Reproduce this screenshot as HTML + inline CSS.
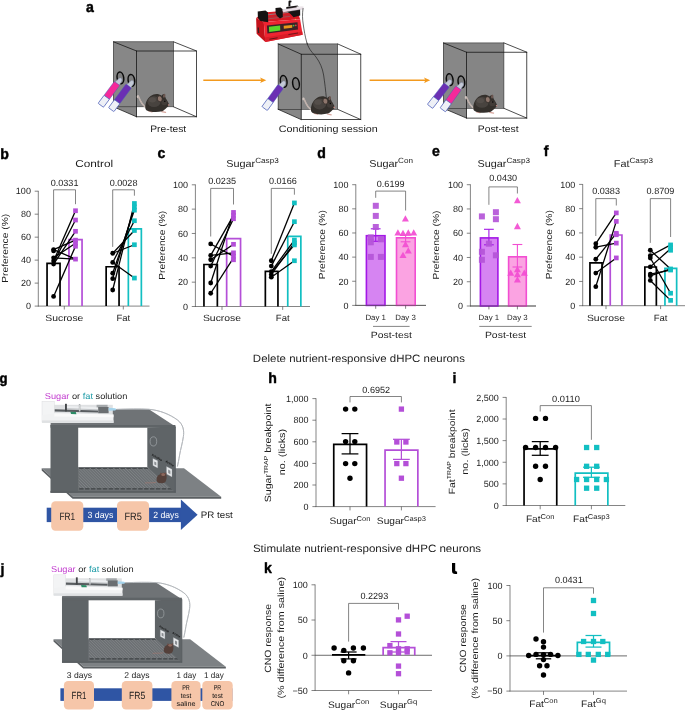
<!DOCTYPE html>
<html lang="en">
<head>
<meta charset="utf-8">
<title>Figure</title>
<style>
html,body{margin:0;padding:0;background:#ffffff;}
body{width:685px;height:711px;overflow:hidden;font-family:"Liberation Sans",sans-serif;}
svg{display:block;font-family:"Liberation Sans",sans-serif;will-change:transform;transform:translateZ(0);-webkit-font-smoothing:antialiased;text-rendering:geometricPrecision;}
svg text{font-family:"Liberation Sans",sans-serif;}
</style>
</head>
<body>
<svg width="685" height="711" viewBox="0 0 685 711">
<rect x="0" y="0" width="685" height="711" fill="#ffffff"/>
<text transform="translate(86.00,12.45) scale(0.94,1)" font-size="15" font-weight="bold" fill="#000" stroke="#000" stroke-width="0.45" stroke-linejoin="round">a</text>
<polygon points="113.50,41.80 173.50,41.80 173.50,106.80 113.50,106.80" fill="#858585" stroke="none" stroke-width="1" stroke-linejoin="round" />
<polygon points="113.50,41.80 136.60,51.00 136.60,116.80 113.50,106.80" fill="#878787" stroke="none" stroke-width="1" stroke-linejoin="round" />
<g stroke="#111" stroke-width="0.75" fill="none" stroke-linecap="round">
<rect x="113.5" y="41.8" width="60.0" height="65.0" stroke="#2a2a2a" stroke-width="0.6"/>
<rect x="136.6" y="51.0" width="60.0" height="65.8"/>
<line x1="113.5" y1="41.8" x2="136.6" y2="51.0"/>
<line x1="173.5" y1="41.8" x2="196.6" y2="51.0"/>
<line x1="113.5" y1="106.8" x2="136.6" y2="116.8"/>
<line x1="173.5" y1="106.8" x2="196.6" y2="116.8"/>
</g>
<ellipse cx="120.4" cy="77.8" rx="3.3" ry="5.9" fill="#7d7d7d" stroke="#0a0a0a" stroke-width="1.5" transform="rotate(-8 120.4 77.8)"/>
<ellipse cx="131.4" cy="80.3" rx="3.3" ry="5.9" fill="#7d7d7d" stroke="#0a0a0a" stroke-width="1.5" transform="rotate(-8 131.4 80.3)"/>
<g transform="translate(120.60,78.60) rotate(126.56)">
<path d="M6.6,-2.6 C3.6,-2.6 1.6,-2.9 0.2,-1.9 C-1.2,-0.8 -0.6,1.0 0.8,1.4 C2.4,1.8 3.8,1.9 6.6,2.6 Z" fill="#c3c9d6" stroke="#7f88a6" stroke-width="0.45"/>
<rect x="6.0" y="-3.35" width="17.84" height="6.7" rx="1.0" fill="#f5299a" stroke="#4a5cb8" stroke-width="0.45"/>
<rect x="23.24" y="-3.35" width="10.00" height="6.7" rx="0.7" fill="#eef0f6" stroke="#4a5cb8" stroke-width="0.7"/>
</g>
<g transform="translate(132.30,81.20) rotate(126.51)">
<path d="M6.6,-2.6 C3.6,-2.6 1.6,-2.9 0.2,-1.9 C-1.2,-0.8 -0.6,1.0 0.8,1.4 C2.4,1.8 3.8,1.9 6.6,2.6 Z" fill="#c3c9d6" stroke="#7f88a6" stroke-width="0.45"/>
<rect x="6.0" y="-3.35" width="20.06" height="6.7" rx="1.0" fill="#6b2fb3" stroke="#4a5cb8" stroke-width="0.45"/>
<rect x="25.46" y="-3.35" width="10.00" height="6.7" rx="0.7" fill="#eef0f6" stroke="#4a5cb8" stroke-width="0.7"/>
</g>
<g transform="translate(156.60,103.40) scale(1.0)">
<path d="M-10.2,4.2 C-13.5,2.8 -16.2,-2.0 -18.0,-6.6 C-18.6,-8.0 -19.4,-7.8 -19.0,-6.2" fill="none" stroke="#d0c4bf" stroke-width="1.5" stroke-linecap="round"/>
<path d="M-10.2,4.2 C-13.5,2.8 -16.2,-2.0 -18.0,-6.6" fill="none" stroke="#a8948d" stroke-width="0.5" stroke-linecap="round"/>
<path d="M-8.0,7.6 L-4.5,8.4" stroke="#d6a49c" stroke-width="1.2" stroke-linecap="round"/>
<path d="M5.2,8.2 L9.0,9.0" stroke="#d6a49c" stroke-width="1.2" stroke-linecap="round"/>
<path d="M-11.2,5.0 C-11.6,0.5 -10.2,-4.0 -6.0,-7.4 C-2.5,-10.0 2.0,-10.2 5.0,-7.6 C5.8,-9.0 7.2,-9.8 7.8,-9.0 C8.4,-8.0 8.6,-6.4 9.4,-4.6 C10.8,-2.4 12.2,-0.4 12.4,1.4 C12.4,2.6 11.2,3.4 10.0,4.4 C8.8,5.6 7.6,7.0 5.6,7.8 C1.8,8.8 -3.0,8.8 -6.6,8.0 C-9.4,7.4 -11.0,6.6 -11.2,5.0 Z" fill="#34302c"/>
<ellipse cx="-2.6" cy="-1.8" rx="6.6" ry="5.4" fill="#4e4945" opacity="0.8"/>
<ellipse cx="-4.2" cy="-3.6" rx="3.6" ry="2.6" fill="#5d5752" opacity="0.6"/>
<ellipse cx="7.8" cy="-0.8" rx="3.0" ry="2.6" fill="#46403c" opacity="0.8"/>
<ellipse cx="3.2" cy="-4.6" rx="2.4" ry="3.0" fill="#8d766c" stroke="#2a2421" stroke-width="0.6" transform="rotate(-12 3.2 -4.6)"/>
<ellipse cx="7.6" cy="-7.6" rx="1.2" ry="2.0" fill="#6a5650" transform="rotate(14 7.6 -7.6)"/>
<circle cx="8.2" cy="-2.2" r="0.75" fill="#050505"/>
<circle cx="12.0" cy="1.6" r="0.8" fill="#c98f88"/>
</g>
<text transform="translate(168.20,132.30) scale(1.0939,1)" font-size="9.4" text-anchor="middle" fill="#1c1c1c">Pre-test</text>
<line x1="203.30" y1="80.30" x2="263.30" y2="80.30" stroke="#f39a1e" stroke-width="1.6" stroke-linecap="butt"/>
<polygon points="266.30,80.30 260.10,77.60 261.50,80.30 260.10,83.00" fill="#f39a1e" stroke="none" stroke-width="1" stroke-linejoin="round" />
<polygon points="256.10,17.90 263.80,12.50 297.00,9.80 300.10,19.20 263.80,22.00" fill="#d81a24" stroke="none" stroke-width="1" stroke-linejoin="round" />
<polygon points="256.10,17.90 263.80,22.00 265.30,41.90 256.60,33.70" fill="#c4121b" stroke="none" stroke-width="1" stroke-linejoin="round" />
<polygon points="263.80,22.00 300.10,19.20 302.70,34.80 265.30,41.90" fill="#ee2431" stroke="none" stroke-width="1" stroke-linejoin="round" />
<polygon points="264.90,37.40 302.20,31.40 302.70,34.80 265.30,41.90" fill="#d91d28" stroke="none" stroke-width="1" stroke-linejoin="round" />
<line x1="269.40" y1="39.20" x2="277.60" y2="37.80" stroke="#5a1216" stroke-width="0.9" stroke-linecap="butt"/>
<line x1="288.40" y1="34.60" x2="298.00" y2="33.00" stroke="#5a1216" stroke-width="0.8" stroke-linecap="butt"/>
<circle cx="295.50" cy="19.30" r="0.6" fill="#e8c23a"/>
<polygon points="266.90,25.40 297.50,22.20 298.00,29.60 267.40,33.50" fill="#3b2326" stroke="none" stroke-width="1" stroke-linejoin="round" />
<polygon points="268.90,26.80 280.10,25.50 280.30,30.60 269.20,31.90" fill="#5cd62a" stroke="none" stroke-width="1" stroke-linejoin="round" />
<polygon points="283.70,25.80 292.20,24.90 292.30,27.80 283.80,28.80" fill="#e8981c" stroke="none" stroke-width="1" stroke-linejoin="round" />
<circle cx="293.60" cy="25.60" r="0.9" fill="#3fc24a"/>
<circle cx="295.80" cy="25.30" r="0.9" fill="#e04040"/>
<line x1="258.20" y1="27.50" x2="258.60" y2="33.00" stroke="#3a2022" stroke-width="1.4" stroke-linecap="butt"/>
<line x1="266.00" y1="15.00" x2="290.00" y2="12.20" stroke="#8a8688" stroke-width="0.9" stroke-linecap="butt"/>
<line x1="266.00" y1="17.60" x2="290.00" y2="14.80" stroke="#b23038" stroke-width="0.8" stroke-linecap="butt"/>
<line x1="266.00" y1="19.00" x2="290.00" y2="16.40" stroke="#777" stroke-width="0.6" stroke-linecap="butt"/>
<polygon points="257.70,11.40 265.50,10.40 268.00,12.60 268.20,22.20 260.30,21.00 257.90,17.80" fill="#141212" stroke="none" stroke-width="1" stroke-linejoin="round" />
<polygon points="275.50,8.00 280.50,7.40 282.70,9.20 282.80,17.00 280.00,18.50 277.00,16.00 275.60,13.00" fill="#161313" stroke="none" stroke-width="1" stroke-linejoin="round" />
<polygon points="286.30,7.00 297.50,5.60 300.10,8.00 300.20,15.60 293.50,17.20 290.50,14.00 286.40,11.00" fill="#171414" stroke="none" stroke-width="1" stroke-linejoin="round" />
<path d="M288.5,6.5 L288.5,1.6 Q288.6,0.4 290.0,0.5 L291.5,0.8 L291.4,2.2 L290.3,2.4 L290.4,6.3 Z" fill="#121010" stroke="none" stroke-width="1" />
<polygon points="282.70,9.60 302.80,6.60 303.30,9.00 283.00,12.20" fill="#e9dfe6" stroke="#bdb2bd" stroke-width="0.3" stroke-linejoin="round" />
<polygon points="296.50,6.40 303.20,5.90 303.60,7.20 296.80,7.90" fill="#f4f0f2" stroke="none" stroke-width="1" stroke-linejoin="round" />
<path d="M303.1,8.2 C302.2,14 302.4,19 303.2,24 C304.2,31 305.0,36 306.8,42.5 C309,50 313,53 316,57 C320,62.5 322.4,68 323.6,75 C324.8,83 325.6,90 326.4,98.5" fill="none" stroke="#1a1a1a" stroke-width="0.65" />
<polygon points="278.10,43.90 337.60,43.90 337.60,109.30 278.10,109.30" fill="#858585" stroke="none" stroke-width="1" stroke-linejoin="round" />
<polygon points="278.10,43.90 301.20,54.20 301.20,119.60 278.10,109.30" fill="#878787" stroke="none" stroke-width="1" stroke-linejoin="round" />
<g stroke="#111" stroke-width="0.75" fill="none" stroke-linecap="round">
<rect x="278.1" y="43.9" width="59.5" height="65.4" stroke="#2a2a2a" stroke-width="0.6"/>
<rect x="301.2" y="54.2" width="59.60000000000002" height="65.39999999999999"/>
<line x1="278.1" y1="43.9" x2="301.2" y2="54.2"/>
<line x1="337.6" y1="43.9" x2="360.8" y2="54.2"/>
<line x1="278.1" y1="109.3" x2="301.2" y2="119.6"/>
<line x1="337.6" y1="109.3" x2="360.8" y2="119.6"/>
</g>
<path d="M306.8,42.5 C309,50 313,53 316,57 C320,62.5 322.4,68 323.6,75 C324.8,83 325.6,90 326.4,98.5" fill="none" stroke="#1a1a1a" stroke-width="0.65" />
<ellipse cx="283.7" cy="81.3" rx="3.3" ry="5.9" fill="#7d7d7d" stroke="#0a0a0a" stroke-width="1.5" transform="rotate(-8 283.7 81.3)"/>
<ellipse cx="296.0" cy="83.6" rx="3.3" ry="5.9" fill="#7d7d7d" stroke="#0a0a0a" stroke-width="1.5" transform="rotate(-8 296.0 83.6)"/>
<g transform="translate(284.20,81.60) rotate(125.98)">
<path d="M6.6,-2.6 C3.6,-2.6 1.6,-2.9 0.2,-1.9 C-1.2,-0.8 -0.6,1.0 0.8,1.4 C2.4,1.8 3.8,1.9 6.6,2.6 Z" fill="#c3c9d6" stroke="#7f88a6" stroke-width="0.45"/>
<rect x="6.0" y="-3.35" width="17.96" height="6.7" rx="1.0" fill="#6b2fb3" stroke="#4a5cb8" stroke-width="0.45"/>
<rect x="23.36" y="-3.35" width="10.00" height="6.7" rx="0.7" fill="#eef0f6" stroke="#4a5cb8" stroke-width="0.7"/>
</g>
<g transform="translate(322.20,105.80) scale(1.0)">
<path d="M-10.2,4.2 C-13.5,2.8 -16.2,-2.0 -18.0,-6.6 C-18.6,-8.0 -19.4,-7.8 -19.0,-6.2" fill="none" stroke="#d0c4bf" stroke-width="1.5" stroke-linecap="round"/>
<path d="M-10.2,4.2 C-13.5,2.8 -16.2,-2.0 -18.0,-6.6" fill="none" stroke="#a8948d" stroke-width="0.5" stroke-linecap="round"/>
<path d="M-8.0,7.6 L-4.5,8.4" stroke="#d6a49c" stroke-width="1.2" stroke-linecap="round"/>
<path d="M5.2,8.2 L9.0,9.0" stroke="#d6a49c" stroke-width="1.2" stroke-linecap="round"/>
<path d="M-11.2,5.0 C-11.6,0.5 -10.2,-4.0 -6.0,-7.4 C-2.5,-10.0 2.0,-10.2 5.0,-7.6 C5.8,-9.0 7.2,-9.8 7.8,-9.0 C8.4,-8.0 8.6,-6.4 9.4,-4.6 C10.8,-2.4 12.2,-0.4 12.4,1.4 C12.4,2.6 11.2,3.4 10.0,4.4 C8.8,5.6 7.6,7.0 5.6,7.8 C1.8,8.8 -3.0,8.8 -6.6,8.0 C-9.4,7.4 -11.0,6.6 -11.2,5.0 Z" fill="#34302c"/>
<ellipse cx="-2.6" cy="-1.8" rx="6.6" ry="5.4" fill="#4e4945" opacity="0.8"/>
<ellipse cx="-4.2" cy="-3.6" rx="3.6" ry="2.6" fill="#5d5752" opacity="0.6"/>
<ellipse cx="7.8" cy="-0.8" rx="3.0" ry="2.6" fill="#46403c" opacity="0.8"/>
<ellipse cx="3.2" cy="-4.6" rx="2.4" ry="3.0" fill="#8d766c" stroke="#2a2421" stroke-width="0.6" transform="rotate(-12 3.2 -4.6)"/>
<ellipse cx="7.6" cy="-7.6" rx="1.2" ry="2.0" fill="#6a5650" transform="rotate(14 7.6 -7.6)"/>
<circle cx="8.2" cy="-2.2" r="0.75" fill="#050505"/>
<circle cx="12.0" cy="1.6" r="0.8" fill="#c98f88"/>
</g>
<text transform="translate(328.20,132.30) scale(1.1447,1)" font-size="9.4" text-anchor="middle" fill="#1c1c1c">Conditioning session</text>
<line x1="369.60" y1="80.30" x2="427.20" y2="80.30" stroke="#f39a1e" stroke-width="1.6" stroke-linecap="butt"/>
<polygon points="430.20,80.30 424.00,77.60 425.40,80.30 424.00,83.00" fill="#f39a1e" stroke="none" stroke-width="1" stroke-linejoin="round" />
<polygon points="443.40,42.90 503.90,42.90 503.90,108.30 443.40,108.30" fill="#858585" stroke="none" stroke-width="1" stroke-linejoin="round" />
<polygon points="443.40,42.90 466.50,52.20 466.50,118.10 443.40,108.30" fill="#878787" stroke="none" stroke-width="1" stroke-linejoin="round" />
<g stroke="#111" stroke-width="0.75" fill="none" stroke-linecap="round">
<rect x="443.4" y="42.9" width="60.5" height="65.4" stroke="#2a2a2a" stroke-width="0.6"/>
<rect x="466.5" y="52.2" width="60.299999999999955" height="65.89999999999999"/>
<line x1="443.4" y1="42.9" x2="466.5" y2="52.2"/>
<line x1="503.9" y1="42.9" x2="526.8" y2="52.2"/>
<line x1="443.4" y1="108.3" x2="466.5" y2="118.1"/>
<line x1="503.9" y1="108.3" x2="526.8" y2="118.1"/>
</g>
<ellipse cx="449.7" cy="79.6" rx="3.3" ry="5.9" fill="#7d7d7d" stroke="#0a0a0a" stroke-width="1.5" transform="rotate(-8 449.7 79.6)"/>
<ellipse cx="461.4" cy="81.9" rx="3.3" ry="5.9" fill="#7d7d7d" stroke="#0a0a0a" stroke-width="1.5" transform="rotate(-8 461.4 81.9)"/>
<g transform="translate(450.30,80.30) rotate(127.87)">
<path d="M6.6,-2.6 C3.6,-2.6 1.6,-2.9 0.2,-1.9 C-1.2,-0.8 -0.6,1.0 0.8,1.4 C2.4,1.8 3.8,1.9 6.6,2.6 Z" fill="#c3c9d6" stroke="#7f88a6" stroke-width="0.45"/>
<rect x="6.0" y="-3.35" width="17.67" height="6.7" rx="1.0" fill="#6b2fb3" stroke="#4a5cb8" stroke-width="0.45"/>
<rect x="23.07" y="-3.35" width="10.00" height="6.7" rx="0.7" fill="#eef0f6" stroke="#4a5cb8" stroke-width="0.7"/>
</g>
<g transform="translate(462.00,83.10) rotate(125.62)">
<path d="M6.6,-2.6 C3.6,-2.6 1.6,-2.9 0.2,-1.9 C-1.2,-0.8 -0.6,1.0 0.8,1.4 C2.4,1.8 3.8,1.9 6.6,2.6 Z" fill="#c3c9d6" stroke="#7f88a6" stroke-width="0.45"/>
<rect x="6.0" y="-3.35" width="17.57" height="6.7" rx="1.0" fill="#f5299a" stroke="#4a5cb8" stroke-width="0.45"/>
<rect x="22.97" y="-3.35" width="10.00" height="6.7" rx="0.7" fill="#eef0f6" stroke="#4a5cb8" stroke-width="0.7"/>
</g>
<g transform="translate(484.60,104.20) scale(1.0)">
<path d="M-10.2,4.2 C-13.5,2.8 -16.2,-2.0 -18.0,-6.6 C-18.6,-8.0 -19.4,-7.8 -19.0,-6.2" fill="none" stroke="#d0c4bf" stroke-width="1.5" stroke-linecap="round"/>
<path d="M-10.2,4.2 C-13.5,2.8 -16.2,-2.0 -18.0,-6.6" fill="none" stroke="#a8948d" stroke-width="0.5" stroke-linecap="round"/>
<path d="M-8.0,7.6 L-4.5,8.4" stroke="#d6a49c" stroke-width="1.2" stroke-linecap="round"/>
<path d="M5.2,8.2 L9.0,9.0" stroke="#d6a49c" stroke-width="1.2" stroke-linecap="round"/>
<path d="M-11.2,5.0 C-11.6,0.5 -10.2,-4.0 -6.0,-7.4 C-2.5,-10.0 2.0,-10.2 5.0,-7.6 C5.8,-9.0 7.2,-9.8 7.8,-9.0 C8.4,-8.0 8.6,-6.4 9.4,-4.6 C10.8,-2.4 12.2,-0.4 12.4,1.4 C12.4,2.6 11.2,3.4 10.0,4.4 C8.8,5.6 7.6,7.0 5.6,7.8 C1.8,8.8 -3.0,8.8 -6.6,8.0 C-9.4,7.4 -11.0,6.6 -11.2,5.0 Z" fill="#34302c"/>
<ellipse cx="-2.6" cy="-1.8" rx="6.6" ry="5.4" fill="#4e4945" opacity="0.8"/>
<ellipse cx="-4.2" cy="-3.6" rx="3.6" ry="2.6" fill="#5d5752" opacity="0.6"/>
<ellipse cx="7.8" cy="-0.8" rx="3.0" ry="2.6" fill="#46403c" opacity="0.8"/>
<ellipse cx="3.2" cy="-4.6" rx="2.4" ry="3.0" fill="#8d766c" stroke="#2a2421" stroke-width="0.6" transform="rotate(-12 3.2 -4.6)"/>
<ellipse cx="7.6" cy="-7.6" rx="1.2" ry="2.0" fill="#6a5650" transform="rotate(14 7.6 -7.6)"/>
<circle cx="8.2" cy="-2.2" r="0.75" fill="#050505"/>
<circle cx="12.0" cy="1.6" r="0.8" fill="#c98f88"/>
</g>
<text transform="translate(498.20,132.30) scale(1.1027,1)" font-size="9.4" text-anchor="middle" fill="#1c1c1c">Post-test</text>
<text transform="translate(0.20,158.75) scale(0.94,1)" font-size="15" font-weight="bold" fill="#000" stroke="#000" stroke-width="0.45" stroke-linejoin="round">b</text>
<line x1="38.30" y1="190.85" x2="38.30" y2="306.45" stroke="#505050" stroke-width="0.7" stroke-linecap="butt"/>
<line x1="34.70" y1="306.10" x2="38.30" y2="306.10" stroke="#505050" stroke-width="0.7" stroke-linecap="butt"/>
<text transform="translate(30.90,309.34)" font-size="9.0" text-anchor="end" fill="#1c1c1c">0</text>
<line x1="34.70" y1="283.12" x2="38.30" y2="283.12" stroke="#505050" stroke-width="0.7" stroke-linecap="butt"/>
<text transform="translate(30.90,286.36)" font-size="9.0" text-anchor="end" fill="#1c1c1c">20</text>
<line x1="34.70" y1="260.14" x2="38.30" y2="260.14" stroke="#505050" stroke-width="0.7" stroke-linecap="butt"/>
<text transform="translate(30.90,263.38)" font-size="9.0" text-anchor="end" fill="#1c1c1c">40</text>
<line x1="34.70" y1="237.16" x2="38.30" y2="237.16" stroke="#505050" stroke-width="0.7" stroke-linecap="butt"/>
<text transform="translate(30.90,240.40)" font-size="9.0" text-anchor="end" fill="#1c1c1c">60</text>
<line x1="34.70" y1="214.18" x2="38.30" y2="214.18" stroke="#505050" stroke-width="0.7" stroke-linecap="butt"/>
<text transform="translate(30.90,217.42)" font-size="9.0" text-anchor="end" fill="#1c1c1c">80</text>
<line x1="34.70" y1="191.20" x2="38.30" y2="191.20" stroke="#505050" stroke-width="0.7" stroke-linecap="butt"/>
<text transform="translate(30.90,194.44)" font-size="9.0" text-anchor="end" fill="#1c1c1c">100</text>
<line x1="37.95" y1="306.10" x2="149.50" y2="306.10" stroke="#505050" stroke-width="0.7" stroke-linecap="butt"/>
<text transform="translate(94.20,166.60) scale(1.1788,1)" font-size="10" text-anchor="middle" fill="#1c1c1c">Control</text>
<text transform="translate(8.30,248.25) rotate(-90) scale(1.166,1)" font-size="8.8" text-anchor="middle" fill="#1c1c1c">Preference (%)</text>
<polyline points="47.05,306.10 47.05,263.40 60.05,263.40 60.05,306.10" fill="none" stroke="#000" stroke-width="1.7"/>
<polyline points="68.95,306.10 68.95,239.62 82.05,239.62 82.05,306.10" fill="none" stroke="#b44fd8" stroke-width="1.7"/>
<line x1="64.30" y1="306.10" x2="64.30" y2="309.50" stroke="#505050" stroke-width="0.7" stroke-linecap="butt"/>
<text transform="translate(64.30,321.20) scale(1.157,1)" font-size="9.0" text-anchor="middle" fill="#1c1c1c">Sucrose</text>
<line x1="53.60" y1="296.45" x2="75.50" y2="246.24" stroke="#000" stroke-width="1.3" stroke-linecap="butt"/>
<line x1="53.60" y1="260.94" x2="75.50" y2="210.73" stroke="#000" stroke-width="1.3" stroke-linecap="butt"/>
<line x1="53.60" y1="262.44" x2="75.50" y2="220.04" stroke="#000" stroke-width="1.3" stroke-linecap="butt"/>
<line x1="53.60" y1="264.05" x2="75.50" y2="231.30" stroke="#000" stroke-width="1.3" stroke-linecap="butt"/>
<line x1="53.60" y1="249.57" x2="75.50" y2="240.15" stroke="#000" stroke-width="1.3" stroke-linecap="butt"/>
<line x1="53.60" y1="257.84" x2="75.50" y2="243.25" stroke="#000" stroke-width="1.3" stroke-linecap="butt"/>
<line x1="53.60" y1="249.57" x2="75.50" y2="259.11" stroke="#000" stroke-width="1.3" stroke-linecap="butt"/>
<line x1="53.60" y1="257.84" x2="75.50" y2="259.11" stroke="#000" stroke-width="1.3" stroke-linecap="butt"/>
<circle cx="53.60" cy="249.57" r="2.4" fill="#000"/>
<circle cx="53.60" cy="250.95" r="2.4" fill="#000"/>
<circle cx="53.60" cy="257.84" r="2.4" fill="#000"/>
<circle cx="53.60" cy="260.94" r="2.4" fill="#000"/>
<circle cx="53.60" cy="264.05" r="2.4" fill="#000"/>
<circle cx="53.60" cy="296.45" r="2.4" fill="#000"/>
<rect x="73.15" y="208.38" width="4.7" height="4.7" fill="#b44fd8"/>
<rect x="73.15" y="217.69" width="4.7" height="4.7" fill="#b44fd8"/>
<rect x="73.15" y="228.95" width="4.7" height="4.7" fill="#b44fd8"/>
<rect x="73.15" y="237.80" width="4.7" height="4.7" fill="#b44fd8"/>
<rect x="73.15" y="240.90" width="4.7" height="4.7" fill="#b44fd8"/>
<rect x="73.15" y="243.89" width="4.7" height="4.7" fill="#b44fd8"/>
<rect x="73.15" y="256.76" width="4.7" height="4.7" fill="#b44fd8"/>
<polyline points="53.60,242.00 53.60,189.80 75.50,189.80 75.50,204.20" fill="none" stroke="#505050" stroke-width="0.7"/>
<text transform="translate(64.55,185.70) scale(1.0099,1)" font-size="9.0" text-anchor="middle" fill="#1c1c1c">0.0331</text>
<polyline points="106.15,306.10 106.15,266.74 119.05,266.74 119.05,306.10" fill="none" stroke="#000" stroke-width="1.7"/>
<polyline points="128.35,306.10 128.35,228.82 141.35,228.82 141.35,306.10" fill="none" stroke="#12bfc2" stroke-width="1.7"/>
<line x1="123.30" y1="306.10" x2="123.30" y2="309.50" stroke="#505050" stroke-width="0.7" stroke-linecap="butt"/>
<text transform="translate(123.30,321.20) scale(1.0612,1)" font-size="9.0" text-anchor="middle" fill="#1c1c1c">Fat</text>
<line x1="112.70" y1="262.44" x2="134.40" y2="278.06" stroke="#000" stroke-width="1.3" stroke-linecap="butt"/>
<line x1="112.70" y1="253.25" x2="134.40" y2="244.74" stroke="#000" stroke-width="1.3" stroke-linecap="butt"/>
<line x1="112.70" y1="253.25" x2="134.40" y2="230.50" stroke="#000" stroke-width="1.3" stroke-linecap="butt"/>
<line x1="112.70" y1="262.44" x2="134.40" y2="220.73" stroke="#000" stroke-width="1.3" stroke-linecap="butt"/>
<line x1="112.70" y1="273.24" x2="134.40" y2="210.16" stroke="#000" stroke-width="1.3" stroke-linecap="butt"/>
<line x1="112.70" y1="278.64" x2="134.40" y2="206.94" stroke="#000" stroke-width="1.3" stroke-linecap="butt"/>
<line x1="112.70" y1="290.01" x2="134.40" y2="203.49" stroke="#000" stroke-width="1.3" stroke-linecap="butt"/>
<circle cx="112.70" cy="253.25" r="2.4" fill="#000"/>
<circle cx="112.70" cy="262.44" r="2.4" fill="#000"/>
<circle cx="112.70" cy="273.24" r="2.4" fill="#000"/>
<circle cx="112.70" cy="278.64" r="2.4" fill="#000"/>
<circle cx="112.70" cy="290.01" r="2.4" fill="#000"/>
<rect x="132.05" y="201.14" width="4.7" height="4.7" fill="#12bfc2"/>
<rect x="132.05" y="204.59" width="4.7" height="4.7" fill="#12bfc2"/>
<rect x="132.05" y="207.81" width="4.7" height="4.7" fill="#12bfc2"/>
<rect x="132.05" y="218.38" width="4.7" height="4.7" fill="#12bfc2"/>
<rect x="132.05" y="228.15" width="4.7" height="4.7" fill="#12bfc2"/>
<rect x="132.05" y="242.39" width="4.7" height="4.7" fill="#12bfc2"/>
<rect x="132.05" y="275.71" width="4.7" height="4.7" fill="#12bfc2"/>
<polyline points="112.70,246.90 112.70,189.80 134.40,189.80 134.40,195.70" fill="none" stroke="#505050" stroke-width="0.7"/>
<text transform="translate(123.55,185.70) scale(1.0099,1)" font-size="9.0" text-anchor="middle" fill="#1c1c1c">0.0028</text>
<text transform="translate(157.40,158.45) scale(0.94,1)" font-size="15" font-weight="bold" fill="#000" stroke="#000" stroke-width="0.45" stroke-linejoin="round">c</text>
<line x1="195.40" y1="184.45" x2="195.40" y2="306.85" stroke="#505050" stroke-width="0.7" stroke-linecap="butt"/>
<line x1="191.80" y1="306.50" x2="195.40" y2="306.50" stroke="#505050" stroke-width="0.7" stroke-linecap="butt"/>
<text transform="translate(188.00,309.74)" font-size="9.0" text-anchor="end" fill="#1c1c1c">0</text>
<line x1="191.80" y1="282.16" x2="195.40" y2="282.16" stroke="#505050" stroke-width="0.7" stroke-linecap="butt"/>
<text transform="translate(188.00,285.40)" font-size="9.0" text-anchor="end" fill="#1c1c1c">20</text>
<line x1="191.80" y1="257.82" x2="195.40" y2="257.82" stroke="#505050" stroke-width="0.7" stroke-linecap="butt"/>
<text transform="translate(188.00,261.06)" font-size="9.0" text-anchor="end" fill="#1c1c1c">40</text>
<line x1="191.80" y1="233.48" x2="195.40" y2="233.48" stroke="#505050" stroke-width="0.7" stroke-linecap="butt"/>
<text transform="translate(188.00,236.72)" font-size="9.0" text-anchor="end" fill="#1c1c1c">60</text>
<line x1="191.80" y1="209.14" x2="195.40" y2="209.14" stroke="#505050" stroke-width="0.7" stroke-linecap="butt"/>
<text transform="translate(188.00,212.38)" font-size="9.0" text-anchor="end" fill="#1c1c1c">80</text>
<line x1="191.80" y1="184.80" x2="195.40" y2="184.80" stroke="#505050" stroke-width="0.7" stroke-linecap="butt"/>
<text transform="translate(188.00,188.04)" font-size="9.0" text-anchor="end" fill="#1c1c1c">100</text>
<line x1="195.05" y1="306.50" x2="310.00" y2="306.50" stroke="#505050" stroke-width="0.7" stroke-linecap="butt"/>
<text transform="translate(252.50,167.00) scale(1.085,1)" font-size="10" text-anchor="middle" fill="#1c1c1c">Sugar<tspan dy="-3.80" font-size="7.50">Casp3</tspan></text>
<text transform="translate(164.60,245.25) rotate(-90) scale(1.166,1)" font-size="8.8" text-anchor="middle" fill="#1c1c1c">Preference (%)</text>
<polyline points="203.95,306.50 203.95,264.51 217.35,264.51 217.35,306.50" fill="none" stroke="#000" stroke-width="1.7"/>
<polyline points="226.65,306.50 226.65,238.59 240.55,238.59 240.55,306.50" fill="none" stroke="#b44fd8" stroke-width="1.7"/>
<line x1="222.00" y1="306.50" x2="222.00" y2="309.90" stroke="#505050" stroke-width="0.7" stroke-linecap="butt"/>
<text transform="translate(222.00,321.20) scale(1.157,1)" font-size="9.0" text-anchor="middle" fill="#1c1c1c">Sucrose</text>
<line x1="210.70" y1="243.95" x2="233.50" y2="256.24" stroke="#000" stroke-width="1.3" stroke-linecap="butt"/>
<line x1="210.70" y1="255.39" x2="233.50" y2="215.35" stroke="#000" stroke-width="1.3" stroke-linecap="butt"/>
<line x1="210.70" y1="259.77" x2="233.50" y2="244.31" stroke="#000" stroke-width="1.3" stroke-linecap="butt"/>
<line x1="210.70" y1="266.10" x2="233.50" y2="218.75" stroke="#000" stroke-width="1.3" stroke-linecap="butt"/>
<line x1="210.70" y1="283.01" x2="233.50" y2="212.43" stroke="#000" stroke-width="1.3" stroke-linecap="butt"/>
<line x1="210.70" y1="293.23" x2="233.50" y2="257.82" stroke="#000" stroke-width="1.3" stroke-linecap="butt"/>
<line x1="210.70" y1="255.39" x2="233.50" y2="252.83" stroke="#000" stroke-width="1.3" stroke-linecap="butt"/>
<circle cx="210.70" cy="243.95" r="2.4" fill="#000"/>
<circle cx="210.70" cy="255.39" r="2.4" fill="#000"/>
<circle cx="210.70" cy="259.77" r="2.4" fill="#000"/>
<circle cx="210.70" cy="266.10" r="2.4" fill="#000"/>
<circle cx="210.70" cy="283.01" r="2.4" fill="#000"/>
<circle cx="210.70" cy="293.23" r="2.4" fill="#000"/>
<rect x="231.15" y="210.08" width="4.7" height="4.7" fill="#b44fd8"/>
<rect x="231.15" y="213.00" width="4.7" height="4.7" fill="#b44fd8"/>
<rect x="231.15" y="216.40" width="4.7" height="4.7" fill="#b44fd8"/>
<rect x="231.15" y="241.96" width="4.7" height="4.7" fill="#b44fd8"/>
<rect x="231.15" y="250.48" width="4.7" height="4.7" fill="#b44fd8"/>
<rect x="231.15" y="253.89" width="4.7" height="4.7" fill="#b44fd8"/>
<rect x="231.15" y="257.42" width="4.7" height="4.7" fill="#b44fd8"/>
<polyline points="210.70,236.50 210.70,188.40 233.50,188.40 233.50,204.50" fill="none" stroke="#505050" stroke-width="0.7"/>
<text transform="translate(222.10,184.00) scale(1.0099,1)" font-size="9.0" text-anchor="middle" fill="#1c1c1c">0.0235</text>
<polyline points="265.35,306.50 265.35,271.33 277.95,271.33 277.95,306.50" fill="none" stroke="#000" stroke-width="1.7"/>
<polyline points="287.75,306.50 287.75,236.40 300.85,236.40 300.85,306.50" fill="none" stroke="#12bfc2" stroke-width="1.7"/>
<line x1="282.70" y1="306.50" x2="282.70" y2="309.90" stroke="#505050" stroke-width="0.7" stroke-linecap="butt"/>
<text transform="translate(282.70,321.20) scale(1.0612,1)" font-size="9.0" text-anchor="middle" fill="#1c1c1c">Fat</text>
<line x1="271.30" y1="260.74" x2="294.40" y2="202.93" stroke="#000" stroke-width="1.3" stroke-linecap="butt"/>
<line x1="271.30" y1="266.10" x2="294.40" y2="221.68" stroke="#000" stroke-width="1.3" stroke-linecap="butt"/>
<line x1="271.30" y1="271.57" x2="294.40" y2="240.05" stroke="#000" stroke-width="1.3" stroke-linecap="butt"/>
<line x1="271.30" y1="274.49" x2="294.40" y2="242.97" stroke="#000" stroke-width="1.3" stroke-linecap="butt"/>
<line x1="271.30" y1="277.17" x2="294.40" y2="260.74" stroke="#000" stroke-width="1.3" stroke-linecap="butt"/>
<line x1="271.30" y1="272.42" x2="294.40" y2="244.92" stroke="#000" stroke-width="1.3" stroke-linecap="butt"/>
<circle cx="271.30" cy="260.74" r="2.4" fill="#000"/>
<circle cx="271.30" cy="266.10" r="2.4" fill="#000"/>
<circle cx="271.30" cy="271.57" r="2.4" fill="#000"/>
<circle cx="271.30" cy="274.49" r="2.4" fill="#000"/>
<circle cx="271.30" cy="277.17" r="2.4" fill="#000"/>
<rect x="292.05" y="200.58" width="4.7" height="4.7" fill="#12bfc2"/>
<rect x="292.05" y="219.33" width="4.7" height="4.7" fill="#12bfc2"/>
<rect x="292.05" y="237.70" width="4.7" height="4.7" fill="#12bfc2"/>
<rect x="292.05" y="240.62" width="4.7" height="4.7" fill="#12bfc2"/>
<rect x="292.05" y="242.57" width="4.7" height="4.7" fill="#12bfc2"/>
<rect x="292.05" y="258.39" width="4.7" height="4.7" fill="#12bfc2"/>
<polyline points="271.30,253.80 271.30,188.40 294.40,188.40 294.40,194.70" fill="none" stroke="#505050" stroke-width="0.7"/>
<text transform="translate(282.85,184.00) scale(1.0099,1)" font-size="9.0" text-anchor="middle" fill="#1c1c1c">0.0166</text>
<text transform="translate(317.20,157.95) scale(0.94,1)" font-size="15" font-weight="bold" fill="#000" stroke="#000" stroke-width="0.45" stroke-linejoin="round">d</text>
<line x1="355.80" y1="184.35" x2="355.80" y2="305.75" stroke="#505050" stroke-width="0.7" stroke-linecap="butt"/>
<line x1="352.20" y1="305.40" x2="355.80" y2="305.40" stroke="#505050" stroke-width="0.7" stroke-linecap="butt"/>
<text transform="translate(348.40,308.64)" font-size="9.0" text-anchor="end" fill="#1c1c1c">0</text>
<line x1="352.20" y1="281.26" x2="355.80" y2="281.26" stroke="#505050" stroke-width="0.7" stroke-linecap="butt"/>
<text transform="translate(348.40,284.50)" font-size="9.0" text-anchor="end" fill="#1c1c1c">20</text>
<line x1="352.20" y1="257.12" x2="355.80" y2="257.12" stroke="#505050" stroke-width="0.7" stroke-linecap="butt"/>
<text transform="translate(348.40,260.36)" font-size="9.0" text-anchor="end" fill="#1c1c1c">40</text>
<line x1="352.20" y1="232.98" x2="355.80" y2="232.98" stroke="#505050" stroke-width="0.7" stroke-linecap="butt"/>
<text transform="translate(348.40,236.22)" font-size="9.0" text-anchor="end" fill="#1c1c1c">60</text>
<line x1="352.20" y1="208.84" x2="355.80" y2="208.84" stroke="#505050" stroke-width="0.7" stroke-linecap="butt"/>
<text transform="translate(348.40,212.08)" font-size="9.0" text-anchor="end" fill="#1c1c1c">80</text>
<line x1="352.20" y1="184.70" x2="355.80" y2="184.70" stroke="#505050" stroke-width="0.7" stroke-linecap="butt"/>
<text transform="translate(348.40,187.94)" font-size="9.0" text-anchor="end" fill="#1c1c1c">100</text>
<line x1="355.45" y1="305.40" x2="426.00" y2="305.40" stroke="#505050" stroke-width="0.7" stroke-linecap="butt"/>
<text transform="translate(391.10,167.20) scale(1.085,1)" font-size="10" text-anchor="middle" fill="#1c1c1c">Sugar<tspan dy="-3.80" font-size="7.50">Con</tspan></text>
<text transform="translate(324.50,244.65) rotate(-90) scale(1.166,1)" font-size="8.8" text-anchor="middle" fill="#1c1c1c">Preference (%)</text>
<rect x="366.40" y="235.70" width="18.60" height="69.70" fill="#d684f2" stroke="#a318e6" stroke-width="1.6" rx="0" />
<rect x="396.50" y="237.80" width="18.70" height="67.60" fill="#fba3e2" stroke="#f24ed2" stroke-width="1.6" rx="0" />
<line x1="355.45" y1="305.40" x2="426.00" y2="305.40" stroke="#505050" stroke-width="0.7" stroke-linecap="butt"/>
<line x1="375.70" y1="228.80" x2="375.70" y2="241.30" stroke="#a318e6" stroke-width="1.1" stroke-linecap="butt"/>
<line x1="370.80" y1="228.80" x2="380.60" y2="228.80" stroke="#a318e6" stroke-width="1.1" stroke-linecap="butt"/>
<line x1="370.80" y1="241.30" x2="380.60" y2="241.30" stroke="#a318e6" stroke-width="1.1" stroke-linecap="butt"/>
<line x1="405.60" y1="235.20" x2="405.60" y2="241.80" stroke="#f24ed2" stroke-width="1.1" stroke-linecap="butt"/>
<line x1="400.70" y1="235.20" x2="410.50" y2="235.20" stroke="#f24ed2" stroke-width="1.1" stroke-linecap="butt"/>
<line x1="400.70" y1="241.80" x2="410.50" y2="241.80" stroke="#f24ed2" stroke-width="1.1" stroke-linecap="butt"/>
<rect x="372.80" y="202.80" width="6.0" height="6.0" fill="#b455d8" fill-opacity="0.92"/>
<rect x="372.80" y="212.90" width="6.0" height="6.0" fill="#b455d8" fill-opacity="0.92"/>
<rect x="372.80" y="224.00" width="6.0" height="6.0" fill="#b455d8" fill-opacity="0.92"/>
<rect x="367.80" y="234.40" width="6.0" height="6.0" fill="#b455d8" fill-opacity="0.92"/>
<rect x="367.80" y="239.30" width="6.0" height="6.0" fill="#b455d8" fill-opacity="0.92"/>
<rect x="377.90" y="236.30" width="6.0" height="6.0" fill="#b455d8" fill-opacity="0.92"/>
<rect x="367.80" y="253.90" width="6.0" height="6.0" fill="#b455d8" fill-opacity="0.92"/>
<rect x="377.90" y="253.90" width="6.0" height="6.0" fill="#b455d8" fill-opacity="0.92"/>
<polygon points="405.40,215.13 408.90,221.44 401.90,221.44" fill="#f24ed2" fill-opacity="0.93"/>
<polygon points="397.90,229.13 401.40,235.44 394.40,235.44" fill="#f24ed2" fill-opacity="0.93"/>
<polygon points="403.00,229.73 406.50,236.03 399.50,236.03" fill="#f24ed2" fill-opacity="0.93"/>
<polygon points="408.30,229.13 411.80,235.44 404.80,235.44" fill="#f24ed2" fill-opacity="0.93"/>
<polygon points="413.70,229.13 417.20,235.44 410.20,235.44" fill="#f24ed2" fill-opacity="0.93"/>
<polygon points="405.50,240.84 409.00,247.14 402.00,247.14" fill="#f24ed2" fill-opacity="0.93"/>
<polygon points="408.30,247.23 411.80,253.53 404.80,253.53" fill="#f24ed2" fill-opacity="0.93"/>
<polygon points="403.00,251.63 406.50,257.94 399.50,257.94" fill="#f24ed2" fill-opacity="0.93"/>
<line x1="375.70" y1="305.40" x2="375.70" y2="308.80" stroke="#505050" stroke-width="0.7" stroke-linecap="butt"/>
<text transform="translate(375.70,320.30) scale(1.0241,1)" font-size="7.7" text-anchor="middle" fill="#1c1c1c">Day 1</text>
<line x1="405.60" y1="305.40" x2="405.60" y2="308.80" stroke="#505050" stroke-width="0.7" stroke-linecap="butt"/>
<text transform="translate(405.60,320.30) scale(1.0241,1)" font-size="7.7" text-anchor="middle" fill="#1c1c1c">Day 3</text>
<line x1="373.00" y1="326.40" x2="409.60" y2="326.40" stroke="#505050" stroke-width="0.7" stroke-linecap="butt"/>
<text transform="translate(391.30,337.70) scale(1.1601,1)" font-size="9.0" text-anchor="middle" fill="#1c1c1c">Post-test</text>
<polyline points="375.70,197.80 375.70,191.10 405.60,191.10 405.60,210.50" fill="none" stroke="#505050" stroke-width="0.7"/>
<text transform="translate(390.65,186.90) scale(1.0099,1)" font-size="9.0" text-anchor="middle" fill="#1c1c1c">0.6199</text>
<text transform="translate(432.00,156.45) scale(0.94,1)" font-size="15" font-weight="bold" fill="#000" stroke="#000" stroke-width="0.45" stroke-linejoin="round">e</text>
<line x1="470.40" y1="184.35" x2="470.40" y2="306.35" stroke="#505050" stroke-width="0.7" stroke-linecap="butt"/>
<line x1="466.80" y1="306.00" x2="470.40" y2="306.00" stroke="#505050" stroke-width="0.7" stroke-linecap="butt"/>
<text transform="translate(463.00,309.24)" font-size="9.0" text-anchor="end" fill="#1c1c1c">0</text>
<line x1="466.80" y1="281.74" x2="470.40" y2="281.74" stroke="#505050" stroke-width="0.7" stroke-linecap="butt"/>
<text transform="translate(463.00,284.98)" font-size="9.0" text-anchor="end" fill="#1c1c1c">20</text>
<line x1="466.80" y1="257.48" x2="470.40" y2="257.48" stroke="#505050" stroke-width="0.7" stroke-linecap="butt"/>
<text transform="translate(463.00,260.72)" font-size="9.0" text-anchor="end" fill="#1c1c1c">40</text>
<line x1="466.80" y1="233.22" x2="470.40" y2="233.22" stroke="#505050" stroke-width="0.7" stroke-linecap="butt"/>
<text transform="translate(463.00,236.46)" font-size="9.0" text-anchor="end" fill="#1c1c1c">60</text>
<line x1="466.80" y1="208.96" x2="470.40" y2="208.96" stroke="#505050" stroke-width="0.7" stroke-linecap="butt"/>
<text transform="translate(463.00,212.20)" font-size="9.0" text-anchor="end" fill="#1c1c1c">80</text>
<line x1="466.80" y1="184.70" x2="470.40" y2="184.70" stroke="#505050" stroke-width="0.7" stroke-linecap="butt"/>
<text transform="translate(463.00,187.94)" font-size="9.0" text-anchor="end" fill="#1c1c1c">100</text>
<line x1="470.05" y1="306.00" x2="536.00" y2="306.00" stroke="#505050" stroke-width="0.7" stroke-linecap="butt"/>
<text transform="translate(503.70,167.20) scale(1.085,1)" font-size="10" text-anchor="middle" fill="#1c1c1c">Sugar<tspan dy="-3.80" font-size="7.50">Casp3</tspan></text>
<text transform="translate(438.50,244.95) rotate(-90) scale(1.166,1)" font-size="8.8" text-anchor="middle" fill="#1c1c1c">Preference (%)</text>
<rect x="480.40" y="237.90" width="17.50" height="68.10" fill="#d684f2" stroke="#a318e6" stroke-width="1.6" rx="0" />
<rect x="508.60" y="256.80" width="17.70" height="49.20" fill="#fba3e2" stroke="#f24ed2" stroke-width="1.6" rx="0" />
<line x1="470.05" y1="306.00" x2="536.00" y2="306.00" stroke="#505050" stroke-width="0.7" stroke-linecap="butt"/>
<line x1="488.90" y1="229.30" x2="488.90" y2="244.80" stroke="#a318e6" stroke-width="1.1" stroke-linecap="butt"/>
<line x1="484.00" y1="229.30" x2="493.80" y2="229.30" stroke="#a318e6" stroke-width="1.1" stroke-linecap="butt"/>
<line x1="484.00" y1="244.80" x2="493.80" y2="244.80" stroke="#a318e6" stroke-width="1.1" stroke-linecap="butt"/>
<line x1="517.40" y1="244.50" x2="517.40" y2="267.00" stroke="#f24ed2" stroke-width="1.1" stroke-linecap="butt"/>
<line x1="512.50" y1="244.50" x2="522.30" y2="244.50" stroke="#f24ed2" stroke-width="1.1" stroke-linecap="butt"/>
<line x1="512.50" y1="267.00" x2="522.30" y2="267.00" stroke="#f24ed2" stroke-width="1.1" stroke-linecap="butt"/>
<rect x="478.90" y="213.40" width="6.0" height="6.0" fill="#b455d8" fill-opacity="0.92"/>
<rect x="492.90" y="209.20" width="6.0" height="6.0" fill="#b455d8" fill-opacity="0.92"/>
<rect x="492.90" y="216.20" width="6.0" height="6.0" fill="#b455d8" fill-opacity="0.92"/>
<rect x="485.90" y="240.70" width="6.0" height="6.0" fill="#b455d8" fill-opacity="0.92"/>
<rect x="478.90" y="248.80" width="6.0" height="6.0" fill="#b455d8" fill-opacity="0.92"/>
<rect x="492.90" y="252.30" width="6.0" height="6.0" fill="#b455d8" fill-opacity="0.92"/>
<rect x="478.90" y="256.80" width="6.0" height="6.0" fill="#b455d8" fill-opacity="0.92"/>
<polygon points="517.40,197.03 520.90,203.34 513.90,203.34" fill="#f24ed2" fill-opacity="0.93"/>
<polygon points="517.40,222.84 520.90,229.14 513.90,229.14" fill="#f24ed2" fill-opacity="0.93"/>
<polygon points="517.40,265.94 520.90,272.23 513.90,272.23" fill="#f24ed2" fill-opacity="0.93"/>
<polygon points="510.70,269.44 514.20,275.73 507.20,275.73" fill="#f24ed2" fill-opacity="0.93"/>
<polygon points="517.40,270.84 520.90,277.13 513.90,277.13" fill="#f24ed2" fill-opacity="0.93"/>
<polygon points="524.30,269.44 527.80,275.73 520.80,275.73" fill="#f24ed2" fill-opacity="0.93"/>
<polygon points="517.40,276.14 520.90,282.44 513.90,282.44" fill="#f24ed2" fill-opacity="0.93"/>
<line x1="488.90" y1="306.00" x2="488.90" y2="309.40" stroke="#505050" stroke-width="0.7" stroke-linecap="butt"/>
<text transform="translate(488.90,320.30) scale(1.0241,1)" font-size="7.7" text-anchor="middle" fill="#1c1c1c">Day 1</text>
<line x1="517.40" y1="306.00" x2="517.40" y2="309.40" stroke="#505050" stroke-width="0.7" stroke-linecap="butt"/>
<text transform="translate(517.40,320.30) scale(1.0241,1)" font-size="7.7" text-anchor="middle" fill="#1c1c1c">Day 3</text>
<line x1="479.30" y1="326.40" x2="531.70" y2="326.40" stroke="#505050" stroke-width="0.7" stroke-linecap="butt"/>
<text transform="translate(505.50,337.70) scale(1.1601,1)" font-size="9.0" text-anchor="middle" fill="#1c1c1c">Post-test</text>
<polyline points="488.90,204.80 488.90,186.90 517.40,186.90 517.40,193.50" fill="none" stroke="#505050" stroke-width="0.7"/>
<text transform="translate(503.15,181.30) scale(1.0099,1)" font-size="9.0" text-anchor="middle" fill="#1c1c1c">0.0430</text>
<text transform="translate(543.70,155.65) scale(0.94,1)" font-size="15" font-weight="bold" fill="#000" stroke="#000" stroke-width="0.45" stroke-linejoin="round">f</text>
<line x1="582.70" y1="184.05" x2="582.70" y2="306.05" stroke="#505050" stroke-width="0.7" stroke-linecap="butt"/>
<line x1="579.10" y1="305.70" x2="582.70" y2="305.70" stroke="#505050" stroke-width="0.7" stroke-linecap="butt"/>
<text transform="translate(575.30,308.94)" font-size="9.0" text-anchor="end" fill="#1c1c1c">0</text>
<line x1="579.10" y1="281.44" x2="582.70" y2="281.44" stroke="#505050" stroke-width="0.7" stroke-linecap="butt"/>
<text transform="translate(575.30,284.68)" font-size="9.0" text-anchor="end" fill="#1c1c1c">20</text>
<line x1="579.10" y1="257.18" x2="582.70" y2="257.18" stroke="#505050" stroke-width="0.7" stroke-linecap="butt"/>
<text transform="translate(575.30,260.42)" font-size="9.0" text-anchor="end" fill="#1c1c1c">40</text>
<line x1="579.10" y1="232.92" x2="582.70" y2="232.92" stroke="#505050" stroke-width="0.7" stroke-linecap="butt"/>
<text transform="translate(575.30,236.16)" font-size="9.0" text-anchor="end" fill="#1c1c1c">60</text>
<line x1="579.10" y1="208.66" x2="582.70" y2="208.66" stroke="#505050" stroke-width="0.7" stroke-linecap="butt"/>
<text transform="translate(575.30,211.90)" font-size="9.0" text-anchor="end" fill="#1c1c1c">80</text>
<line x1="579.10" y1="184.40" x2="582.70" y2="184.40" stroke="#505050" stroke-width="0.7" stroke-linecap="butt"/>
<text transform="translate(575.30,187.64)" font-size="9.0" text-anchor="end" fill="#1c1c1c">100</text>
<line x1="582.35" y1="305.70" x2="686.00" y2="305.70" stroke="#505050" stroke-width="0.7" stroke-linecap="butt"/>
<text transform="translate(633.40,166.60) scale(1.085,1)" font-size="10" text-anchor="middle" fill="#1c1c1c">Fat<tspan dy="-3.80" font-size="7.50">Casp3</tspan></text>
<text transform="translate(552.30,244.65) rotate(-90) scale(1.166,1)" font-size="8.8" text-anchor="middle" fill="#1c1c1c">Preference (%)</text>
<polyline points="589.95,305.70 589.95,262.88 602.05,262.88 602.05,305.70" fill="none" stroke="#000" stroke-width="1.7"/>
<polyline points="610.25,305.70 610.25,234.98 621.95,234.98 621.95,305.70" fill="none" stroke="#b44fd8" stroke-width="1.7"/>
<line x1="606.00" y1="305.70" x2="606.00" y2="309.10" stroke="#505050" stroke-width="0.7" stroke-linecap="butt"/>
<text transform="translate(606.00,321.20) scale(1.157,1)" font-size="9.0" text-anchor="middle" fill="#1c1c1c">Sucrose</text>
<line x1="595.80" y1="243.72" x2="616.30" y2="212.91" stroke="#000" stroke-width="1.3" stroke-linecap="butt"/>
<line x1="595.80" y1="247.23" x2="616.30" y2="243.11" stroke="#000" stroke-width="1.3" stroke-linecap="butt"/>
<line x1="595.80" y1="259.24" x2="616.30" y2="233.28" stroke="#000" stroke-width="1.3" stroke-linecap="butt"/>
<line x1="595.80" y1="273.07" x2="616.30" y2="257.91" stroke="#000" stroke-width="1.3" stroke-linecap="butt"/>
<line x1="595.80" y1="286.66" x2="616.30" y2="221.40" stroke="#000" stroke-width="1.3" stroke-linecap="butt"/>
<circle cx="595.80" cy="243.72" r="2.4" fill="#000"/>
<circle cx="595.80" cy="247.23" r="2.4" fill="#000"/>
<circle cx="595.80" cy="259.24" r="2.4" fill="#000"/>
<circle cx="595.80" cy="273.07" r="2.4" fill="#000"/>
<circle cx="595.80" cy="286.66" r="2.4" fill="#000"/>
<rect x="613.95" y="210.56" width="4.7" height="4.7" fill="#b44fd8"/>
<rect x="613.95" y="219.05" width="4.7" height="4.7" fill="#b44fd8"/>
<rect x="613.95" y="230.93" width="4.7" height="4.7" fill="#b44fd8"/>
<rect x="613.95" y="232.39" width="4.7" height="4.7" fill="#b44fd8"/>
<rect x="613.95" y="240.76" width="4.7" height="4.7" fill="#b44fd8"/>
<rect x="613.95" y="255.56" width="4.7" height="4.7" fill="#b44fd8"/>
<polyline points="595.80,236.00 595.80,198.60 616.30,198.60 616.30,205.50" fill="none" stroke="#505050" stroke-width="0.7"/>
<text transform="translate(606.05,194.10) scale(1.0099,1)" font-size="9.0" text-anchor="middle" fill="#1c1c1c">0.0383</text>
<polyline points="644.85,305.70 644.85,267.01 656.35,267.01 656.35,305.70" fill="none" stroke="#000" stroke-width="1.7"/>
<polyline points="664.95,305.70 664.95,268.46 676.65,268.46 676.65,305.70" fill="none" stroke="#12bfc2" stroke-width="1.7"/>
<line x1="660.60" y1="305.70" x2="660.60" y2="309.10" stroke="#505050" stroke-width="0.7" stroke-linecap="butt"/>
<text transform="translate(660.60,321.20) scale(1.0612,1)" font-size="9.0" text-anchor="middle" fill="#1c1c1c">Fat</text>
<line x1="650.30" y1="250.27" x2="670.60" y2="268.95" stroke="#000" stroke-width="1.3" stroke-linecap="butt"/>
<line x1="650.30" y1="255.72" x2="670.60" y2="244.93" stroke="#000" stroke-width="1.3" stroke-linecap="butt"/>
<line x1="650.30" y1="258.03" x2="670.60" y2="293.21" stroke="#000" stroke-width="1.3" stroke-linecap="butt"/>
<line x1="650.30" y1="266.88" x2="670.60" y2="248.69" stroke="#000" stroke-width="1.3" stroke-linecap="butt"/>
<line x1="650.30" y1="274.04" x2="670.60" y2="270.04" stroke="#000" stroke-width="1.3" stroke-linecap="butt"/>
<line x1="650.30" y1="275.86" x2="670.60" y2="268.95" stroke="#000" stroke-width="1.3" stroke-linecap="butt"/>
<line x1="650.30" y1="280.47" x2="670.60" y2="300.36" stroke="#000" stroke-width="1.3" stroke-linecap="butt"/>
<circle cx="650.30" cy="250.27" r="2.4" fill="#000"/>
<circle cx="650.30" cy="255.72" r="2.4" fill="#000"/>
<circle cx="650.30" cy="258.03" r="2.4" fill="#000"/>
<circle cx="650.30" cy="266.88" r="2.4" fill="#000"/>
<circle cx="650.30" cy="274.04" r="2.4" fill="#000"/>
<circle cx="650.30" cy="275.86" r="2.4" fill="#000"/>
<circle cx="650.30" cy="280.47" r="2.4" fill="#000"/>
<rect x="668.25" y="242.58" width="4.7" height="4.7" fill="#12bfc2"/>
<rect x="668.25" y="244.88" width="4.7" height="4.7" fill="#12bfc2"/>
<rect x="668.25" y="247.92" width="4.7" height="4.7" fill="#12bfc2"/>
<rect x="668.25" y="266.60" width="4.7" height="4.7" fill="#12bfc2"/>
<rect x="668.25" y="267.69" width="4.7" height="4.7" fill="#12bfc2"/>
<rect x="668.25" y="290.86" width="4.7" height="4.7" fill="#12bfc2"/>
<rect x="668.25" y="298.01" width="4.7" height="4.7" fill="#12bfc2"/>
<polyline points="650.30,242.90 650.30,198.60 670.60,198.60 670.60,237.00" fill="none" stroke="#505050" stroke-width="0.7"/>
<text transform="translate(660.45,194.10) scale(1.0099,1)" font-size="9.0" text-anchor="middle" fill="#1c1c1c">0.8709</text>
<text transform="translate(358.90,361.80) scale(1.0815,1)" font-size="10.6" text-anchor="middle" fill="#1c1c1c">Delete nutrient-responsive dHPC neurons</text>
<text transform="translate(367.00,552.40) scale(1.0884,1)" font-size="10.6" text-anchor="middle" fill="#1c1c1c">Stimulate nutrient-responsive dHPC neurons</text>
<text transform="translate(-0.40,383.15) scale(0.94,1)" font-size="14" font-weight="bold" fill="#000" stroke="#000" stroke-width="0.45" stroke-linejoin="round">g</text>
<text transform="translate(44.80,398.50) scale(1.0732,1)" font-size="8.6" text-anchor="start" fill="#1c1c1c"><tspan fill="#c23ccf">Sugar</tspan><tspan> or </tspan><tspan fill="#1a9aa6">fat</tspan><tspan> solution</tspan></text>
<polygon points="41.70,468.20 184.00,468.20 221.20,496.80 73.20,496.80" fill="#7d8184" stroke="none" stroke-width="1" stroke-linejoin="round" />
<polygon points="41.70,468.20 73.20,496.80 221.20,496.80 221.20,498.80 72.60,498.80 41.70,470.60" fill="#5b5f62" stroke="none" stroke-width="1" stroke-linejoin="round" />
<polygon points="52.00,409.30 148.90,409.30 175.40,426.60 50.50,425.20" fill="#6f7376" stroke="none" stroke-width="1" stroke-linejoin="round" />
<rect x="78.20" y="427.60" width="69.10" height="39.60" fill="#ffffff" stroke="none" stroke-width="1" rx="0" />
<polygon points="78.20,467.00 147.30,467.00 175.40,492.80 78.20,492.80" fill="#6c7073" stroke="none" stroke-width="1" stroke-linejoin="round" />
<defs><clipPath id="flr"><polygon points="78.5,468.8 148.5,468.8 172.5,488.0 78.5,488.0"/></clipPath></defs>
<g clip-path="url(#flr)" stroke="#7f8386" stroke-width="1.0">
<line x1="52.00" y1="467.5" x2="74.00" y2="489.5"/>
<line x1="54.90" y1="467.5" x2="76.90" y2="489.5"/>
<line x1="57.80" y1="467.5" x2="79.80" y2="489.5"/>
<line x1="60.70" y1="467.5" x2="82.70" y2="489.5"/>
<line x1="63.60" y1="467.5" x2="85.60" y2="489.5"/>
<line x1="66.50" y1="467.5" x2="88.50" y2="489.5"/>
<line x1="69.40" y1="467.5" x2="91.40" y2="489.5"/>
<line x1="72.30" y1="467.5" x2="94.30" y2="489.5"/>
<line x1="75.20" y1="467.5" x2="97.20" y2="489.5"/>
<line x1="78.10" y1="467.5" x2="100.10" y2="489.5"/>
<line x1="81.00" y1="467.5" x2="103.00" y2="489.5"/>
<line x1="83.90" y1="467.5" x2="105.90" y2="489.5"/>
<line x1="86.80" y1="467.5" x2="108.80" y2="489.5"/>
<line x1="89.70" y1="467.5" x2="111.70" y2="489.5"/>
<line x1="92.60" y1="467.5" x2="114.60" y2="489.5"/>
<line x1="95.50" y1="467.5" x2="117.50" y2="489.5"/>
<line x1="98.40" y1="467.5" x2="120.40" y2="489.5"/>
<line x1="101.30" y1="467.5" x2="123.30" y2="489.5"/>
<line x1="104.20" y1="467.5" x2="126.20" y2="489.5"/>
<line x1="107.10" y1="467.5" x2="129.10" y2="489.5"/>
<line x1="110.00" y1="467.5" x2="132.00" y2="489.5"/>
<line x1="112.90" y1="467.5" x2="134.90" y2="489.5"/>
<line x1="115.80" y1="467.5" x2="137.80" y2="489.5"/>
<line x1="118.70" y1="467.5" x2="140.70" y2="489.5"/>
<line x1="121.60" y1="467.5" x2="143.60" y2="489.5"/>
<line x1="124.50" y1="467.5" x2="146.50" y2="489.5"/>
<line x1="127.40" y1="467.5" x2="149.40" y2="489.5"/>
<line x1="130.30" y1="467.5" x2="152.30" y2="489.5"/>
<line x1="133.20" y1="467.5" x2="155.20" y2="489.5"/>
<line x1="136.10" y1="467.5" x2="158.10" y2="489.5"/>
<line x1="139.00" y1="467.5" x2="161.00" y2="489.5"/>
<line x1="141.90" y1="467.5" x2="163.90" y2="489.5"/>
<line x1="144.80" y1="467.5" x2="166.80" y2="489.5"/>
<line x1="147.70" y1="467.5" x2="169.70" y2="489.5"/>
<line x1="150.60" y1="467.5" x2="172.60" y2="489.5"/>
<line x1="153.50" y1="467.5" x2="175.50" y2="489.5"/>
<line x1="156.40" y1="467.5" x2="178.40" y2="489.5"/>
<line x1="159.30" y1="467.5" x2="181.30" y2="489.5"/>
<line x1="162.20" y1="467.5" x2="184.20" y2="489.5"/>
<line x1="165.10" y1="467.5" x2="187.10" y2="489.5"/>
<line x1="168.00" y1="467.5" x2="190.00" y2="489.5"/>
<line x1="170.90" y1="467.5" x2="192.90" y2="489.5"/>
<line x1="173.80" y1="467.5" x2="195.80" y2="489.5"/>
</g>
<line x1="79.2" y1="468.5" x2="148.0" y2="468.5" stroke="#45494c" stroke-width="1.0" stroke-dasharray="4.4 1.5"/>
<line x1="79.2" y1="488.8" x2="173.0" y2="488.8" stroke="#3f4346" stroke-width="1.2" stroke-dasharray="4.4 1.5"/>
<polygon points="147.30,427.60 175.40,426.60 175.40,492.80 147.30,467.00" fill="#5f6467" stroke="none" stroke-width="1" stroke-linejoin="round" />
<rect x="50.50" y="425.00" width="27.70" height="67.80" fill="#5f6467" stroke="none" stroke-width="1" rx="0" />
<rect x="50.50" y="425.00" width="124.90" height="2.70" fill="#5f6467" stroke="none" stroke-width="1" rx="0" />
<rect x="50.50" y="490.90" width="124.90" height="1.90" fill="#5a5f62" stroke="none" stroke-width="1" rx="0" />
<line x1="175.40" y1="426.60" x2="175.40" y2="492.80" stroke="#565b5e" stroke-width="0.8" stroke-linecap="butt"/>
<ellipse cx="153.4" cy="441.4" rx="3.3" ry="4.6" fill="none" stroke="#b4babd" stroke-width="0.55"/>
<polygon points="152.90,458.40 157.70,460.80 157.70,468.00 152.90,465.40" fill="#e6e8ea" stroke="#9a9ea2" stroke-width="0.3" stroke-linejoin="round" />
<polygon points="166.50,466.40 172.00,469.20 172.00,476.90 166.50,474.00" fill="#e6e8ea" stroke="#9a9ea2" stroke-width="0.3" stroke-linejoin="round" />
<polygon points="154.30,461.40 156.30,462.40 156.30,465.60 154.30,464.60" fill="#8a8e92" stroke="none" stroke-width="1" stroke-linejoin="round" />
<polygon points="168.20,469.60 170.40,470.70 170.40,474.20 168.20,473.10" fill="#8a8e92" stroke="none" stroke-width="1" stroke-linejoin="round" />
<text transform="translate(151.6,455.4) rotate(31)" font-size="3.1" font-weight="bold" fill="#111">Inactive</text>
<text transform="translate(165.2,462.0) rotate(31)" font-size="3.1" font-weight="bold" fill="#111">Active</text>
<path d="M156.0,482.4 C152,483.2 148.5,482.5 144.9,483.0" fill="none" stroke="#b9786c" stroke-width="0.45"/>
<path d="M156.6,480.6 C156.2,477.0 158.4,474.4 161.0,474.0 C162.2,472.4 165.4,472.4 166.2,474.6 C167.0,476.6 166.6,479.0 166.0,480.6 C165.6,482.4 164.2,483.2 162.0,483.3 C159.5,483.5 157.0,483.0 156.6,480.6 Z" fill="#54403a"/>
<ellipse cx="163.2" cy="474.6" rx="2.0" ry="1.5" fill="#8c675c"/>
<circle cx="160.9" cy="473.6" r="0.9" fill="#6b4c44"/><circle cx="165.6" cy="473.3" r="0.9" fill="#6b4c44"/>
<rect x="54.00" y="404.80" width="58.80" height="10.00" fill="#dfe1e3" stroke="none" stroke-width="1" rx="0" />
<polygon points="54.20,409.20 98.00,410.40 98.00,412.60 54.20,411.60" fill="#595d60" stroke="none" stroke-width="1" stroke-linejoin="round" />
<rect x="42.00" y="401.20" width="12.40" height="21.40" fill="#f3f4f5" stroke="#d6d8da" stroke-width="0.4" rx="0" />
<polygon points="42.00,415.20 54.40,413.20 113.50,414.60 113.50,422.90 42.00,422.90" fill="#f1f2f3" stroke="none" stroke-width="1" stroke-linejoin="round" />
<polygon points="54.40,413.20 113.50,414.60 113.50,417.20 54.40,416.40" fill="#fafafa" stroke="none" stroke-width="1" stroke-linejoin="round" />
<rect x="42.00" y="420.40" width="71.50" height="2.50" fill="#dfe1e3" stroke="none" stroke-width="1" rx="0" />
<line x1="66.50" y1="407.20" x2="98.00" y2="408.40" stroke="#eceef0" stroke-width="2.4" stroke-linecap="butt"/>
<line x1="66.50" y1="408.60" x2="98.00" y2="409.80" stroke="#a0a4a8" stroke-width="0.5" stroke-linecap="butt"/>
<rect x="65.00" y="403.80" width="1.90" height="7.60" fill="#44474a" stroke="none" stroke-width="1" rx="0" />
<rect x="79.00" y="404.80" width="1.30" height="6.60" fill="#d4d6d8" stroke="#a8acb0" stroke-width="0.3" rx="0" />
<polygon points="70.40,411.80 75.80,412.00 76.40,414.20 71.00,414.00" fill="#2c8c66" stroke="none" stroke-width="1" stroke-linejoin="round" />
<rect x="96.60" y="404.80" width="11.00" height="2.60" fill="#a4a8ab" stroke="none" stroke-width="1" rx="0" />
<rect x="98.20" y="407.00" width="10.40" height="6.20" fill="#6a6e71" stroke="none" stroke-width="1" rx="0" />
<polygon points="108.60,407.80 115.20,408.30 116.60,409.30 115.20,410.40 108.60,410.80" fill="#a6d4ec" stroke="none" stroke-width="1" stroke-linejoin="round" />
<path d="M116.5,409.4 C128,409.0 140,408.7 148.9,409.3 C160,410.2 170,414.5 177.5,420.0 C183.5,424.5 184.2,431 183.4,436.5 C182.4,443.5 180.6,449 179.6,455 C178.8,460 178.0,463.5 177.4,466.5" fill="none" stroke="#7b8188" stroke-width="0.9" />
<path d="M116.5,409.4 C128,409.0 140,408.7 148.9,409.3 C160,410.2 170,414.5 177.5,420.0 C183.5,424.5 184.2,431 183.4,436.5 C182.4,443.5 180.6,449 179.6,455 C178.8,460 178.0,463.5 177.4,466.5" fill="none" stroke="#f4f6f8" stroke-width="0.4" />
<rect x="46.70" y="507.70" width="134.60" height="14.40" fill="#2f55a4" stroke="none" stroke-width="1" rx="0" />
<polygon points="180.90,499.60 197.60,514.80 180.90,530.10" fill="#2f55a4" stroke="none" stroke-width="1" stroke-linejoin="round" />
<rect x="51.20" y="501.20" width="32.10" height="29.60" fill="#f6c6a9" stroke="none" stroke-width="1" rx="4.2" />
<rect x="117.00" y="501.20" width="32.10" height="29.60" fill="#f6c6a9" stroke="none" stroke-width="1" rx="4.2" />
<text transform="translate(67.30,519.50) scale(0.779,1)" font-size="10.6" text-anchor="middle" fill="#1c1c1c">FR1</text>
<text transform="translate(133.10,519.50) scale(0.8639,1)" font-size="10.6" text-anchor="middle" fill="#1c1c1c">FR5</text>
<text transform="translate(100.40,517.80) scale(0.9805,1)" font-size="9.0" text-anchor="middle" fill="#fff">3 days</text>
<text transform="translate(166.00,517.80) scale(0.9692,1)" font-size="9.0" text-anchor="middle" fill="#fff">2 days</text>
<text transform="translate(200.80,517.90) scale(1.0415,1)" font-size="9.4" text-anchor="start" fill="#1c1c1c">PR test</text>
<text transform="translate(268.30,383.25) scale(0.94,1)" font-size="15" font-weight="bold" fill="#000" stroke="#000" stroke-width="0.45" stroke-linejoin="round">h</text>
<line x1="316.00" y1="398.25" x2="316.00" y2="506.95" stroke="#505050" stroke-width="0.7" stroke-linecap="butt"/>
<line x1="312.40" y1="506.60" x2="316.00" y2="506.60" stroke="#505050" stroke-width="0.7" stroke-linecap="butt"/>
<text transform="translate(308.60,509.84)" font-size="9.0" text-anchor="end" fill="#1c1c1c">0</text>
<line x1="312.40" y1="485.00" x2="316.00" y2="485.00" stroke="#505050" stroke-width="0.7" stroke-linecap="butt"/>
<text transform="translate(308.60,488.24)" font-size="9.0" text-anchor="end" fill="#1c1c1c">200</text>
<line x1="312.40" y1="463.40" x2="316.00" y2="463.40" stroke="#505050" stroke-width="0.7" stroke-linecap="butt"/>
<text transform="translate(308.60,466.64)" font-size="9.0" text-anchor="end" fill="#1c1c1c">400</text>
<line x1="312.40" y1="441.80" x2="316.00" y2="441.80" stroke="#505050" stroke-width="0.7" stroke-linecap="butt"/>
<text transform="translate(308.60,445.04)" font-size="9.0" text-anchor="end" fill="#1c1c1c">600</text>
<line x1="312.40" y1="420.20" x2="316.00" y2="420.20" stroke="#505050" stroke-width="0.7" stroke-linecap="butt"/>
<text transform="translate(308.60,423.44)" font-size="9.0" text-anchor="end" fill="#1c1c1c">800</text>
<line x1="312.40" y1="398.60" x2="316.00" y2="398.60" stroke="#505050" stroke-width="0.7" stroke-linecap="butt"/>
<text transform="translate(308.60,401.84)" font-size="9.0" text-anchor="end" fill="#1c1c1c">1,000</text>
<line x1="315.65" y1="506.60" x2="435.60" y2="506.60" stroke="#505050" stroke-width="0.7" stroke-linecap="butt"/>
<polyline points="333.75,506.60 333.75,444.35 366.55,444.35 366.55,506.60" fill="none" stroke="#000" stroke-width="1.7"/>
<polyline points="385.05,506.60 385.05,450.15 417.85,450.15 417.85,506.60" fill="none" stroke="#b44fd8" stroke-width="1.7"/>
<line x1="350.00" y1="433.60" x2="350.00" y2="453.90" stroke="#000" stroke-width="1.25" stroke-linecap="butt"/>
<line x1="341.60" y1="433.60" x2="358.40" y2="433.60" stroke="#000" stroke-width="1.25" stroke-linecap="butt"/>
<line x1="341.60" y1="453.90" x2="358.40" y2="453.90" stroke="#000" stroke-width="1.25" stroke-linecap="butt"/>
<line x1="401.40" y1="439.30" x2="401.40" y2="459.40" stroke="#b44fd8" stroke-width="1.25" stroke-linecap="butt"/>
<line x1="393.00" y1="439.30" x2="409.80" y2="439.30" stroke="#b44fd8" stroke-width="1.25" stroke-linecap="butt"/>
<line x1="393.00" y1="459.40" x2="409.80" y2="459.40" stroke="#b44fd8" stroke-width="1.25" stroke-linecap="butt"/>
<circle cx="345.60" cy="409.10" r="2.7" fill="#000"/>
<circle cx="354.80" cy="409.10" r="2.7" fill="#000"/>
<circle cx="345.60" cy="441.60" r="2.7" fill="#000"/>
<circle cx="354.80" cy="441.60" r="2.7" fill="#000"/>
<circle cx="345.60" cy="463.60" r="2.7" fill="#000"/>
<circle cx="354.80" cy="463.60" r="2.7" fill="#000"/>
<circle cx="350.00" cy="478.20" r="2.7" fill="#000"/>
<rect x="398.75" y="406.45" width="5.3" height="5.3" fill="#b44fd8"/>
<rect x="394.15" y="439.35" width="5.3" height="5.3" fill="#b44fd8"/>
<rect x="403.25" y="439.35" width="5.3" height="5.3" fill="#b44fd8"/>
<rect x="394.15" y="460.95" width="5.3" height="5.3" fill="#b44fd8"/>
<rect x="403.25" y="460.95" width="5.3" height="5.3" fill="#b44fd8"/>
<rect x="398.75" y="475.55" width="5.3" height="5.3" fill="#b44fd8"/>
<line x1="350.00" y1="506.60" x2="350.00" y2="510.40" stroke="#505050" stroke-width="0.7" stroke-linecap="butt"/>
<line x1="401.40" y1="506.60" x2="401.40" y2="510.40" stroke="#505050" stroke-width="0.7" stroke-linecap="butt"/>
<polyline points="350.00,402.40 350.00,396.50 401.40,396.50 401.40,402.40" fill="none" stroke="#505050" stroke-width="0.7"/>
<text transform="translate(376.20,392.70) scale(1.0099,1)" font-size="9.0" text-anchor="middle" fill="#1c1c1c">0.6952</text>
<text transform="translate(350.00,524.30) scale(1.085,1)" font-size="9.4" text-anchor="middle" fill="#1c1c1c">Sugar<tspan dy="-3.57" font-size="7.00">Con</tspan></text>
<text transform="translate(401.40,524.30) scale(1.085,1)" font-size="9.4" text-anchor="middle" fill="#1c1c1c">Sugar<tspan dy="-3.57" font-size="7.00">Casp3</tspan></text>
<text transform="translate(271.40,452.90) rotate(-90) scale(1.1729,1)" font-size="9.0" text-anchor="middle" fill="#1c1c1c"><tspan>Sugar</tspan><tspan dy="-3.42" font-size="5.85">TRAP</tspan><tspan dy="3.42"> breakpoint</tspan></text>
<text transform="translate(284.50,452.10) rotate(-90) scale(1.205,1)" font-size="9.0" text-anchor="middle" fill="#1c1c1c">no. (licks)</text>
<text transform="translate(452.40,383.05) scale(0.94,1)" font-size="15" font-weight="bold" fill="#000" stroke="#000" stroke-width="0.45" stroke-linejoin="round">i</text>
<line x1="506.20" y1="397.05" x2="506.20" y2="505.85" stroke="#505050" stroke-width="0.7" stroke-linecap="butt"/>
<line x1="502.60" y1="505.50" x2="506.20" y2="505.50" stroke="#505050" stroke-width="0.7" stroke-linecap="butt"/>
<text transform="translate(498.80,508.74)" font-size="9.0" text-anchor="end" fill="#1c1c1c">0</text>
<line x1="502.60" y1="483.88" x2="506.20" y2="483.88" stroke="#505050" stroke-width="0.7" stroke-linecap="butt"/>
<text transform="translate(498.80,487.12)" font-size="9.0" text-anchor="end" fill="#1c1c1c">500</text>
<line x1="502.60" y1="462.26" x2="506.20" y2="462.26" stroke="#505050" stroke-width="0.7" stroke-linecap="butt"/>
<text transform="translate(498.80,465.50)" font-size="9.0" text-anchor="end" fill="#1c1c1c">1,000</text>
<line x1="502.60" y1="440.64" x2="506.20" y2="440.64" stroke="#505050" stroke-width="0.7" stroke-linecap="butt"/>
<text transform="translate(498.80,443.88)" font-size="9.0" text-anchor="end" fill="#1c1c1c">1,500</text>
<line x1="502.60" y1="419.02" x2="506.20" y2="419.02" stroke="#505050" stroke-width="0.7" stroke-linecap="butt"/>
<text transform="translate(498.80,422.26)" font-size="9.0" text-anchor="end" fill="#1c1c1c">2,000</text>
<line x1="502.60" y1="397.40" x2="506.20" y2="397.40" stroke="#505050" stroke-width="0.7" stroke-linecap="butt"/>
<text transform="translate(498.80,400.64)" font-size="9.0" text-anchor="end" fill="#1c1c1c">2,500</text>
<line x1="505.85" y1="505.50" x2="625.30" y2="505.50" stroke="#505050" stroke-width="0.7" stroke-linecap="butt"/>
<polyline points="524.05,505.50 524.05,448.85 556.75,448.85 556.75,505.50" fill="none" stroke="#000" stroke-width="1.7"/>
<polyline points="575.25,505.50 575.25,473.05 607.85,473.05 607.85,505.50" fill="none" stroke="#12bfc2" stroke-width="1.7"/>
<line x1="540.20" y1="441.60" x2="540.20" y2="455.30" stroke="#000" stroke-width="1.25" stroke-linecap="butt"/>
<line x1="531.80" y1="441.60" x2="548.60" y2="441.60" stroke="#000" stroke-width="1.25" stroke-linecap="butt"/>
<line x1="531.80" y1="455.30" x2="548.60" y2="455.30" stroke="#000" stroke-width="1.25" stroke-linecap="butt"/>
<line x1="591.40" y1="467.20" x2="591.40" y2="477.30" stroke="#12bfc2" stroke-width="1.25" stroke-linecap="butt"/>
<line x1="583.00" y1="467.20" x2="599.80" y2="467.20" stroke="#12bfc2" stroke-width="1.25" stroke-linecap="butt"/>
<line x1="583.00" y1="477.30" x2="599.80" y2="477.30" stroke="#12bfc2" stroke-width="1.25" stroke-linecap="butt"/>
<circle cx="535.60" cy="418.40" r="2.7" fill="#000"/>
<circle cx="545.50" cy="418.40" r="2.7" fill="#000"/>
<circle cx="525.60" cy="447.50" r="2.7" fill="#000"/>
<circle cx="535.60" cy="447.50" r="2.7" fill="#000"/>
<circle cx="545.50" cy="447.50" r="2.7" fill="#000"/>
<circle cx="555.60" cy="447.50" r="2.7" fill="#000"/>
<circle cx="535.60" cy="466.30" r="2.7" fill="#000"/>
<circle cx="545.50" cy="466.30" r="2.7" fill="#000"/>
<circle cx="540.20" cy="479.50" r="2.7" fill="#000"/>
<rect x="583.95" y="444.85" width="5.3" height="5.3" fill="#12bfc2"/>
<rect x="594.05" y="444.85" width="5.3" height="5.3" fill="#12bfc2"/>
<rect x="583.95" y="463.65" width="5.3" height="5.3" fill="#12bfc2"/>
<rect x="594.05" y="463.65" width="5.3" height="5.3" fill="#12bfc2"/>
<rect x="573.95" y="476.85" width="5.3" height="5.3" fill="#12bfc2"/>
<rect x="583.95" y="476.85" width="5.3" height="5.3" fill="#12bfc2"/>
<rect x="594.05" y="476.85" width="5.3" height="5.3" fill="#12bfc2"/>
<rect x="603.75" y="476.85" width="5.3" height="5.3" fill="#12bfc2"/>
<rect x="583.95" y="485.55" width="5.3" height="5.3" fill="#12bfc2"/>
<rect x="594.05" y="485.55" width="5.3" height="5.3" fill="#12bfc2"/>
<line x1="540.20" y1="505.50" x2="540.20" y2="509.30" stroke="#505050" stroke-width="0.7" stroke-linecap="butt"/>
<line x1="591.40" y1="505.50" x2="591.40" y2="509.30" stroke="#505050" stroke-width="0.7" stroke-linecap="butt"/>
<polyline points="540.20,411.50 540.20,405.60 591.40,405.60 591.40,439.80" fill="none" stroke="#505050" stroke-width="0.7"/>
<text transform="translate(565.90,401.80) scale(1.035,1)" font-size="9.0" text-anchor="middle" fill="#1c1c1c">0.0110</text>
<text transform="translate(540.20,522.30) scale(1.085,1)" font-size="9.4" text-anchor="middle" fill="#1c1c1c">Fat<tspan dy="-3.57" font-size="7.00">Con</tspan></text>
<text transform="translate(591.40,522.30) scale(1.085,1)" font-size="9.4" text-anchor="middle" fill="#1c1c1c">Fat<tspan dy="-3.57" font-size="7.00">Casp3</tspan></text>
<text transform="translate(454.90,451.90) rotate(-90) scale(1.1608,1)" font-size="9.0" text-anchor="middle" fill="#1c1c1c"><tspan>Fat</tspan><tspan dy="-3.42" font-size="5.85">TRAP</tspan><tspan dy="3.42"> breakpoint</tspan></text>
<text transform="translate(467.50,451.40) rotate(-90) scale(1.2102,1)" font-size="9.0" text-anchor="middle" fill="#1c1c1c">no. (licks)</text>
<text transform="translate(0.40,573.55) scale(0.94,1)" font-size="15" font-weight="bold" fill="#000" stroke="#000" stroke-width="0.45" stroke-linejoin="round">j</text>
<text transform="translate(51.00,571.60) scale(1.0732,1)" font-size="8.6" text-anchor="start" fill="#1c1c1c"><tspan fill="#c23ccf">Sugar</tspan><tspan> or </tspan><tspan fill="#1a9aa6">fat</tspan><tspan> solution</tspan></text>
<g transform="translate(13.5,189.7) scale(0.96)">
<polygon points="41.70,468.20 184.00,468.20 221.20,496.80 73.20,496.80" fill="#7d8184" stroke="none" stroke-width="1" stroke-linejoin="round" />
<polygon points="41.70,468.20 73.20,496.80 221.20,496.80 221.20,498.80 72.60,498.80 41.70,470.60" fill="#5b5f62" stroke="none" stroke-width="1" stroke-linejoin="round" />
<polygon points="52.00,409.30 148.90,409.30 175.40,426.60 50.50,425.20" fill="#6f7376" stroke="none" stroke-width="1" stroke-linejoin="round" />
<rect x="78.20" y="427.60" width="69.10" height="39.60" fill="#ffffff" stroke="none" stroke-width="1" rx="0" />
<polygon points="78.20,467.00 147.30,467.00 175.40,492.80 78.20,492.80" fill="#6c7073" stroke="none" stroke-width="1" stroke-linejoin="round" />
<g clip-path="url(#flr)" stroke="#7f8386" stroke-width="1.0">
<line x1="52.00" y1="467.5" x2="74.00" y2="489.5"/>
<line x1="54.90" y1="467.5" x2="76.90" y2="489.5"/>
<line x1="57.80" y1="467.5" x2="79.80" y2="489.5"/>
<line x1="60.70" y1="467.5" x2="82.70" y2="489.5"/>
<line x1="63.60" y1="467.5" x2="85.60" y2="489.5"/>
<line x1="66.50" y1="467.5" x2="88.50" y2="489.5"/>
<line x1="69.40" y1="467.5" x2="91.40" y2="489.5"/>
<line x1="72.30" y1="467.5" x2="94.30" y2="489.5"/>
<line x1="75.20" y1="467.5" x2="97.20" y2="489.5"/>
<line x1="78.10" y1="467.5" x2="100.10" y2="489.5"/>
<line x1="81.00" y1="467.5" x2="103.00" y2="489.5"/>
<line x1="83.90" y1="467.5" x2="105.90" y2="489.5"/>
<line x1="86.80" y1="467.5" x2="108.80" y2="489.5"/>
<line x1="89.70" y1="467.5" x2="111.70" y2="489.5"/>
<line x1="92.60" y1="467.5" x2="114.60" y2="489.5"/>
<line x1="95.50" y1="467.5" x2="117.50" y2="489.5"/>
<line x1="98.40" y1="467.5" x2="120.40" y2="489.5"/>
<line x1="101.30" y1="467.5" x2="123.30" y2="489.5"/>
<line x1="104.20" y1="467.5" x2="126.20" y2="489.5"/>
<line x1="107.10" y1="467.5" x2="129.10" y2="489.5"/>
<line x1="110.00" y1="467.5" x2="132.00" y2="489.5"/>
<line x1="112.90" y1="467.5" x2="134.90" y2="489.5"/>
<line x1="115.80" y1="467.5" x2="137.80" y2="489.5"/>
<line x1="118.70" y1="467.5" x2="140.70" y2="489.5"/>
<line x1="121.60" y1="467.5" x2="143.60" y2="489.5"/>
<line x1="124.50" y1="467.5" x2="146.50" y2="489.5"/>
<line x1="127.40" y1="467.5" x2="149.40" y2="489.5"/>
<line x1="130.30" y1="467.5" x2="152.30" y2="489.5"/>
<line x1="133.20" y1="467.5" x2="155.20" y2="489.5"/>
<line x1="136.10" y1="467.5" x2="158.10" y2="489.5"/>
<line x1="139.00" y1="467.5" x2="161.00" y2="489.5"/>
<line x1="141.90" y1="467.5" x2="163.90" y2="489.5"/>
<line x1="144.80" y1="467.5" x2="166.80" y2="489.5"/>
<line x1="147.70" y1="467.5" x2="169.70" y2="489.5"/>
<line x1="150.60" y1="467.5" x2="172.60" y2="489.5"/>
<line x1="153.50" y1="467.5" x2="175.50" y2="489.5"/>
<line x1="156.40" y1="467.5" x2="178.40" y2="489.5"/>
<line x1="159.30" y1="467.5" x2="181.30" y2="489.5"/>
<line x1="162.20" y1="467.5" x2="184.20" y2="489.5"/>
<line x1="165.10" y1="467.5" x2="187.10" y2="489.5"/>
<line x1="168.00" y1="467.5" x2="190.00" y2="489.5"/>
<line x1="170.90" y1="467.5" x2="192.90" y2="489.5"/>
<line x1="173.80" y1="467.5" x2="195.80" y2="489.5"/>
</g>
<line x1="79.2" y1="468.5" x2="148.0" y2="468.5" stroke="#45494c" stroke-width="1.0" stroke-dasharray="4.4 1.5"/>
<line x1="79.2" y1="488.8" x2="173.0" y2="488.8" stroke="#3f4346" stroke-width="1.2" stroke-dasharray="4.4 1.5"/>
<polygon points="147.30,427.60 175.40,426.60 175.40,492.80 147.30,467.00" fill="#5f6467" stroke="none" stroke-width="1" stroke-linejoin="round" />
<rect x="50.50" y="425.00" width="27.70" height="67.80" fill="#5f6467" stroke="none" stroke-width="1" rx="0" />
<rect x="50.50" y="425.00" width="124.90" height="2.70" fill="#5f6467" stroke="none" stroke-width="1" rx="0" />
<rect x="50.50" y="490.90" width="124.90" height="1.90" fill="#5a5f62" stroke="none" stroke-width="1" rx="0" />
<line x1="175.40" y1="426.60" x2="175.40" y2="492.80" stroke="#565b5e" stroke-width="0.8" stroke-linecap="butt"/>
<ellipse cx="153.4" cy="441.4" rx="3.3" ry="4.6" fill="none" stroke="#b4babd" stroke-width="0.55"/>
<polygon points="152.90,458.40 157.70,460.80 157.70,468.00 152.90,465.40" fill="#e6e8ea" stroke="#9a9ea2" stroke-width="0.3" stroke-linejoin="round" />
<polygon points="166.50,466.40 172.00,469.20 172.00,476.90 166.50,474.00" fill="#e6e8ea" stroke="#9a9ea2" stroke-width="0.3" stroke-linejoin="round" />
<polygon points="154.30,461.40 156.30,462.40 156.30,465.60 154.30,464.60" fill="#8a8e92" stroke="none" stroke-width="1" stroke-linejoin="round" />
<polygon points="168.20,469.60 170.40,470.70 170.40,474.20 168.20,473.10" fill="#8a8e92" stroke="none" stroke-width="1" stroke-linejoin="round" />
<text transform="translate(151.6,455.4) rotate(31)" font-size="3.1" font-weight="bold" fill="#111">Inactive</text>
<text transform="translate(165.2,462.0) rotate(31)" font-size="3.1" font-weight="bold" fill="#111">Active</text>
<path d="M156.0,482.4 C152,483.2 148.5,482.5 144.9,483.0" fill="none" stroke="#b9786c" stroke-width="0.45"/>
<path d="M156.6,480.6 C156.2,477.0 158.4,474.4 161.0,474.0 C162.2,472.4 165.4,472.4 166.2,474.6 C167.0,476.6 166.6,479.0 166.0,480.6 C165.6,482.4 164.2,483.2 162.0,483.3 C159.5,483.5 157.0,483.0 156.6,480.6 Z" fill="#54403a"/>
<ellipse cx="163.2" cy="474.6" rx="2.0" ry="1.5" fill="#8c675c"/>
<circle cx="160.9" cy="473.6" r="0.9" fill="#6b4c44"/><circle cx="165.6" cy="473.3" r="0.9" fill="#6b4c44"/>
<rect x="54.00" y="404.80" width="58.80" height="10.00" fill="#dfe1e3" stroke="none" stroke-width="1" rx="0" />
<polygon points="54.20,409.20 98.00,410.40 98.00,412.60 54.20,411.60" fill="#595d60" stroke="none" stroke-width="1" stroke-linejoin="round" />
<rect x="42.00" y="401.20" width="12.40" height="21.40" fill="#f3f4f5" stroke="#d6d8da" stroke-width="0.4" rx="0" />
<polygon points="42.00,415.20 54.40,413.20 113.50,414.60 113.50,422.90 42.00,422.90" fill="#f1f2f3" stroke="none" stroke-width="1" stroke-linejoin="round" />
<polygon points="54.40,413.20 113.50,414.60 113.50,417.20 54.40,416.40" fill="#fafafa" stroke="none" stroke-width="1" stroke-linejoin="round" />
<rect x="42.00" y="420.40" width="71.50" height="2.50" fill="#dfe1e3" stroke="none" stroke-width="1" rx="0" />
<line x1="66.50" y1="407.20" x2="98.00" y2="408.40" stroke="#eceef0" stroke-width="2.4" stroke-linecap="butt"/>
<line x1="66.50" y1="408.60" x2="98.00" y2="409.80" stroke="#a0a4a8" stroke-width="0.5" stroke-linecap="butt"/>
<rect x="65.00" y="403.80" width="1.90" height="7.60" fill="#44474a" stroke="none" stroke-width="1" rx="0" />
<rect x="79.00" y="404.80" width="1.30" height="6.60" fill="#d4d6d8" stroke="#a8acb0" stroke-width="0.3" rx="0" />
<polygon points="70.40,411.80 75.80,412.00 76.40,414.20 71.00,414.00" fill="#2c8c66" stroke="none" stroke-width="1" stroke-linejoin="round" />
<rect x="96.60" y="404.80" width="11.00" height="2.60" fill="#a4a8ab" stroke="none" stroke-width="1" rx="0" />
<rect x="98.20" y="407.00" width="10.40" height="6.20" fill="#6a6e71" stroke="none" stroke-width="1" rx="0" />
<polygon points="108.60,407.80 115.20,408.30 116.60,409.30 115.20,410.40 108.60,410.80" fill="#a6d4ec" stroke="none" stroke-width="1" stroke-linejoin="round" />
<path d="M116.5,409.4 C128,409.0 140,408.7 148.9,409.3 C160,410.2 170,414.5 177.5,420.0 C183.5,424.5 184.2,431 183.4,436.5 C182.4,443.5 180.6,449 179.6,455 C178.8,460 178.0,463.5 177.4,466.5" fill="none" stroke="#7b8188" stroke-width="0.9" />
<path d="M116.5,409.4 C128,409.0 140,408.7 148.9,409.3 C160,410.2 170,414.5 177.5,420.0 C183.5,424.5 184.2,431 183.4,436.5 C182.4,443.5 180.6,449 179.6,455 C178.8,460 178.0,463.5 177.4,466.5" fill="none" stroke="#f4f6f8" stroke-width="0.4" />
</g>
<rect x="60.40" y="688.30" width="172.00" height="12.60" fill="#2f55a4" stroke="none" stroke-width="1" rx="0" />
<rect x="63.90" y="681.00" width="30.10" height="28.60" fill="#f6c6a9" stroke="none" stroke-width="1" rx="4.2" />
<rect x="121.80" y="681.00" width="30.60" height="28.60" fill="#f6c6a9" stroke="none" stroke-width="1" rx="4.2" />
<rect x="171.40" y="681.00" width="29.20" height="28.60" fill="#f6c6a9" stroke="none" stroke-width="1" rx="4.2" />
<rect x="202.30" y="681.00" width="30.40" height="28.60" fill="#f6c6a9" stroke="none" stroke-width="1" rx="4.2" />
<text transform="translate(79.00,699.20) scale(0.7533,1)" font-size="10.4" text-anchor="middle" fill="#1c1c1c">FR1</text>
<text transform="translate(137.10,699.20) scale(0.8245,1)" font-size="10.4" text-anchor="middle" fill="#1c1c1c">FR5</text>
<text transform="translate(186.00,689.70) scale(0.7815,1)" font-size="7.0" text-anchor="middle" fill="#111">PR</text>
<text transform="translate(186.00,698.00) scale(0.9306,1)" font-size="7.0" text-anchor="middle" fill="#111">test</text>
<text transform="translate(186.00,706.30) scale(1.0388,1)" font-size="7.0" text-anchor="middle" fill="#111">saline</text>
<text transform="translate(217.50,689.70) scale(0.7815,1)" font-size="7.0" text-anchor="middle" fill="#111">PR</text>
<text transform="translate(217.50,698.00) scale(0.9306,1)" font-size="7.0" text-anchor="middle" fill="#111">test</text>
<text transform="translate(217.50,706.30) scale(0.8807,1)" font-size="7.0" text-anchor="middle" fill="#111">CNO</text>
<text transform="translate(79.40,677.60) scale(1.0263,1)" font-size="8.4" text-anchor="middle" fill="#1c1c1c">3 days</text>
<text transform="translate(136.90,677.60) scale(1.0263,1)" font-size="8.4" text-anchor="middle" fill="#1c1c1c">2 days</text>
<text transform="translate(186.40,677.60) scale(0.9587,1)" font-size="8.4" text-anchor="middle" fill="#1c1c1c">1 day</text>
<text transform="translate(214.00,677.60) scale(0.9635,1)" font-size="8.4" text-anchor="middle" fill="#1c1c1c">1 day</text>
<text transform="translate(264.00,573.45) scale(0.94,1)" font-size="15" font-weight="bold" fill="#000" stroke="#000" stroke-width="0.45" stroke-linejoin="round">k</text>
<line x1="315.10" y1="584.45" x2="315.10" y2="690.85" stroke="#505050" stroke-width="0.7" stroke-linecap="butt"/>
<line x1="311.50" y1="690.50" x2="315.10" y2="690.50" stroke="#505050" stroke-width="0.7" stroke-linecap="butt"/>
<text transform="translate(307.70,693.74)" font-size="9.0" text-anchor="end" fill="#1c1c1c">−50</text>
<line x1="311.50" y1="655.27" x2="315.10" y2="655.27" stroke="#505050" stroke-width="0.7" stroke-linecap="butt"/>
<text transform="translate(307.70,658.51)" font-size="9.0" text-anchor="end" fill="#1c1c1c">0</text>
<line x1="311.50" y1="620.03" x2="315.10" y2="620.03" stroke="#505050" stroke-width="0.7" stroke-linecap="butt"/>
<text transform="translate(307.70,623.27)" font-size="9.0" text-anchor="end" fill="#1c1c1c">50</text>
<line x1="311.50" y1="584.80" x2="315.10" y2="584.80" stroke="#505050" stroke-width="0.7" stroke-linecap="butt"/>
<text transform="translate(307.70,588.04)" font-size="9.0" text-anchor="end" fill="#1c1c1c">100</text>
<line x1="314.75" y1="690.50" x2="432.00" y2="690.50" stroke="#505050" stroke-width="0.7" stroke-linecap="butt"/>
<line x1="315.10" y1="655.27" x2="432.00" y2="655.27" stroke="#3a3a3a" stroke-width="0.75" stroke-linecap="butt"/>
<line x1="332.00" y1="654.90" x2="365.30" y2="654.90" stroke="#000" stroke-width="1.7" stroke-linecap="butt"/>
<polyline points="383.15,655.27 383.15,647.55 414.75,647.55 414.75,655.27" fill="none" stroke="#b44fd8" stroke-width="1.7"/>
<line x1="348.60" y1="652.00" x2="348.60" y2="658.90" stroke="#000" stroke-width="1.25" stroke-linecap="butt"/>
<line x1="340.60" y1="652.00" x2="356.60" y2="652.00" stroke="#000" stroke-width="1.25" stroke-linecap="butt"/>
<line x1="340.60" y1="658.90" x2="356.60" y2="658.90" stroke="#000" stroke-width="1.25" stroke-linecap="butt"/>
<line x1="398.50" y1="641.60" x2="398.50" y2="652.00" stroke="#b44fd8" stroke-width="1.25" stroke-linecap="butt"/>
<line x1="390.50" y1="641.60" x2="406.50" y2="641.60" stroke="#b44fd8" stroke-width="1.25" stroke-linecap="butt"/>
<line x1="390.50" y1="652.00" x2="406.50" y2="652.00" stroke="#b44fd8" stroke-width="1.25" stroke-linecap="butt"/>
<circle cx="334.10" cy="648.00" r="2.7" fill="#000"/>
<circle cx="343.80" cy="650.40" r="2.7" fill="#000"/>
<circle cx="353.40" cy="648.00" r="2.7" fill="#000"/>
<circle cx="363.40" cy="648.00" r="2.7" fill="#000"/>
<circle cx="343.80" cy="660.80" r="2.7" fill="#000"/>
<circle cx="353.40" cy="660.80" r="2.7" fill="#000"/>
<circle cx="348.60" cy="672.90" r="2.7" fill="#000"/>
<rect x="395.85" y="617.25" width="5.3" height="5.3" fill="#b44fd8"/>
<rect x="404.55" y="613.55" width="5.3" height="5.3" fill="#b44fd8"/>
<rect x="395.85" y="631.35" width="5.3" height="5.3" fill="#b44fd8"/>
<rect x="387.25" y="642.95" width="5.3" height="5.3" fill="#b44fd8"/>
<rect x="395.85" y="646.15" width="5.3" height="5.3" fill="#b44fd8"/>
<rect x="404.55" y="646.15" width="5.3" height="5.3" fill="#b44fd8"/>
<rect x="387.25" y="650.15" width="5.3" height="5.3" fill="#b44fd8"/>
<rect x="395.85" y="650.15" width="5.3" height="5.3" fill="#b44fd8"/>
<rect x="404.55" y="649.35" width="5.3" height="5.3" fill="#b44fd8"/>
<rect x="395.85" y="663.45" width="5.3" height="5.3" fill="#b44fd8"/>
<rect x="395.85" y="671.05" width="5.3" height="5.3" fill="#b44fd8"/>
<line x1="348.60" y1="690.50" x2="348.60" y2="694.30" stroke="#505050" stroke-width="0.7" stroke-linecap="butt"/>
<line x1="398.50" y1="690.50" x2="398.50" y2="694.30" stroke="#505050" stroke-width="0.7" stroke-linecap="butt"/>
<polyline points="348.60,641.60 348.60,603.40 398.50,603.40 398.50,609.50" fill="none" stroke="#505050" stroke-width="0.7"/>
<text transform="translate(374.30,598.90) scale(1.0099,1)" font-size="9.0" text-anchor="middle" fill="#1c1c1c">0.2293</text>
<text transform="translate(348.60,707.60) scale(1.085,1)" font-size="9.4" text-anchor="middle" fill="#1c1c1c">Sugar<tspan dy="-3.57" font-size="7.00">Con</tspan></text>
<text transform="translate(398.50,707.60) scale(1.085,1)" font-size="9.4" text-anchor="middle" fill="#1c1c1c">Sugar<tspan dy="-3.57" font-size="7.00">Gq</tspan></text>
<text transform="translate(271.40,638.40) rotate(-90) scale(1.1575,1)" font-size="9.0" text-anchor="middle" fill="#1c1c1c">CNO response</text>
<text transform="translate(283.80,637.70) rotate(-90) scale(1.1887,1)" font-size="9.0" text-anchor="middle" fill="#1c1c1c">(% difference from saline)</text>
<path d="M452.0,562.9 h3.2 v7.4 q0,1.1 1.1,1.1 h0.8 v2.5 h-1.9 q-3.2,0 -3.2,-3.2 z" fill="#000" stroke="none" stroke-width="1" />
<line x1="510.00" y1="585.15" x2="510.00" y2="691.45" stroke="#505050" stroke-width="0.7" stroke-linecap="butt"/>
<line x1="506.40" y1="691.10" x2="510.00" y2="691.10" stroke="#505050" stroke-width="0.7" stroke-linecap="butt"/>
<text transform="translate(502.60,694.34)" font-size="9.0" text-anchor="end" fill="#1c1c1c">−50</text>
<line x1="506.40" y1="655.90" x2="510.00" y2="655.90" stroke="#505050" stroke-width="0.7" stroke-linecap="butt"/>
<text transform="translate(502.60,659.14)" font-size="9.0" text-anchor="end" fill="#1c1c1c">0</text>
<line x1="506.40" y1="620.70" x2="510.00" y2="620.70" stroke="#505050" stroke-width="0.7" stroke-linecap="butt"/>
<text transform="translate(502.60,623.94)" font-size="9.0" text-anchor="end" fill="#1c1c1c">50</text>
<line x1="506.40" y1="585.50" x2="510.00" y2="585.50" stroke="#505050" stroke-width="0.7" stroke-linecap="butt"/>
<text transform="translate(502.60,588.74)" font-size="9.0" text-anchor="end" fill="#1c1c1c">100</text>
<line x1="509.65" y1="691.10" x2="627.00" y2="691.10" stroke="#505050" stroke-width="0.7" stroke-linecap="butt"/>
<line x1="510.00" y1="655.90" x2="627.00" y2="655.90" stroke="#3a3a3a" stroke-width="0.75" stroke-linecap="butt"/>
<line x1="526.30" y1="655.60" x2="560.30" y2="655.60" stroke="#000" stroke-width="1.7" stroke-linecap="butt"/>
<polyline points="577.35,655.90 577.35,642.35 609.55,642.35 609.55,655.90" fill="none" stroke="#12bfc2" stroke-width="1.7"/>
<line x1="543.50" y1="652.80" x2="543.50" y2="658.80" stroke="#000" stroke-width="1.25" stroke-linecap="butt"/>
<line x1="535.80" y1="652.80" x2="551.20" y2="652.80" stroke="#000" stroke-width="1.25" stroke-linecap="butt"/>
<line x1="535.80" y1="658.80" x2="551.20" y2="658.80" stroke="#000" stroke-width="1.25" stroke-linecap="butt"/>
<line x1="593.50" y1="635.50" x2="593.50" y2="647.10" stroke="#12bfc2" stroke-width="1.25" stroke-linecap="butt"/>
<line x1="585.50" y1="635.50" x2="601.50" y2="635.50" stroke="#12bfc2" stroke-width="1.25" stroke-linecap="butt"/>
<line x1="585.50" y1="647.10" x2="601.50" y2="647.10" stroke="#12bfc2" stroke-width="1.25" stroke-linecap="butt"/>
<circle cx="536.00" cy="639.00" r="2.7" fill="#000"/>
<circle cx="543.50" cy="641.80" r="2.7" fill="#000"/>
<circle cx="543.50" cy="647.10" r="2.7" fill="#000"/>
<circle cx="528.70" cy="655.50" r="2.7" fill="#000"/>
<circle cx="536.00" cy="654.40" r="2.7" fill="#000"/>
<circle cx="543.50" cy="654.70" r="2.7" fill="#000"/>
<circle cx="550.60" cy="654.40" r="2.7" fill="#000"/>
<circle cx="557.90" cy="655.50" r="2.7" fill="#000"/>
<circle cx="543.50" cy="659.60" r="2.7" fill="#000"/>
<circle cx="539.60" cy="665.70" r="2.7" fill="#000"/>
<circle cx="547.00" cy="665.70" r="2.7" fill="#000"/>
<circle cx="543.50" cy="675.00" r="2.7" fill="#000"/>
<rect x="590.85" y="597.85" width="5.3" height="5.3" fill="#12bfc2"/>
<rect x="590.85" y="610.85" width="5.3" height="5.3" fill="#12bfc2"/>
<rect x="580.95" y="638.85" width="5.3" height="5.3" fill="#12bfc2"/>
<rect x="590.85" y="638.85" width="5.3" height="5.3" fill="#12bfc2"/>
<rect x="600.15" y="638.85" width="5.3" height="5.3" fill="#12bfc2"/>
<rect x="576.25" y="651.75" width="5.3" height="5.3" fill="#12bfc2"/>
<rect x="585.65" y="651.75" width="5.3" height="5.3" fill="#12bfc2"/>
<rect x="595.65" y="651.75" width="5.3" height="5.3" fill="#12bfc2"/>
<rect x="605.05" y="651.75" width="5.3" height="5.3" fill="#12bfc2"/>
<rect x="590.85" y="657.45" width="5.3" height="5.3" fill="#12bfc2"/>
<line x1="543.50" y1="691.10" x2="543.50" y2="694.90" stroke="#505050" stroke-width="0.7" stroke-linecap="butt"/>
<line x1="593.50" y1="691.10" x2="593.50" y2="694.90" stroke="#505050" stroke-width="0.7" stroke-linecap="butt"/>
<polyline points="543.50,632.60 543.50,587.80 593.50,587.80 593.50,593.70" fill="none" stroke="#505050" stroke-width="0.7"/>
<text transform="translate(568.80,582.90) scale(1.0099,1)" font-size="9.0" text-anchor="middle" fill="#1c1c1c">0.0431</text>
<text transform="translate(543.50,707.00) scale(1.085,1)" font-size="9.4" text-anchor="middle" fill="#1c1c1c">Fat<tspan dy="-3.57" font-size="7.00">Con</tspan></text>
<text transform="translate(593.50,707.00) scale(1.085,1)" font-size="9.4" text-anchor="middle" fill="#1c1c1c">Fat<tspan dy="-3.57" font-size="7.00">Gq</tspan></text>
<text transform="translate(466.10,638.30) rotate(-90) scale(1.1474,1)" font-size="9.0" text-anchor="middle" fill="#1c1c1c">CNO response</text>
<text transform="translate(477.80,638.50) rotate(-90) scale(1.1819,1)" font-size="9.0" text-anchor="middle" fill="#1c1c1c">(% difference from saline)</text>
</svg>
</body>
</html>
